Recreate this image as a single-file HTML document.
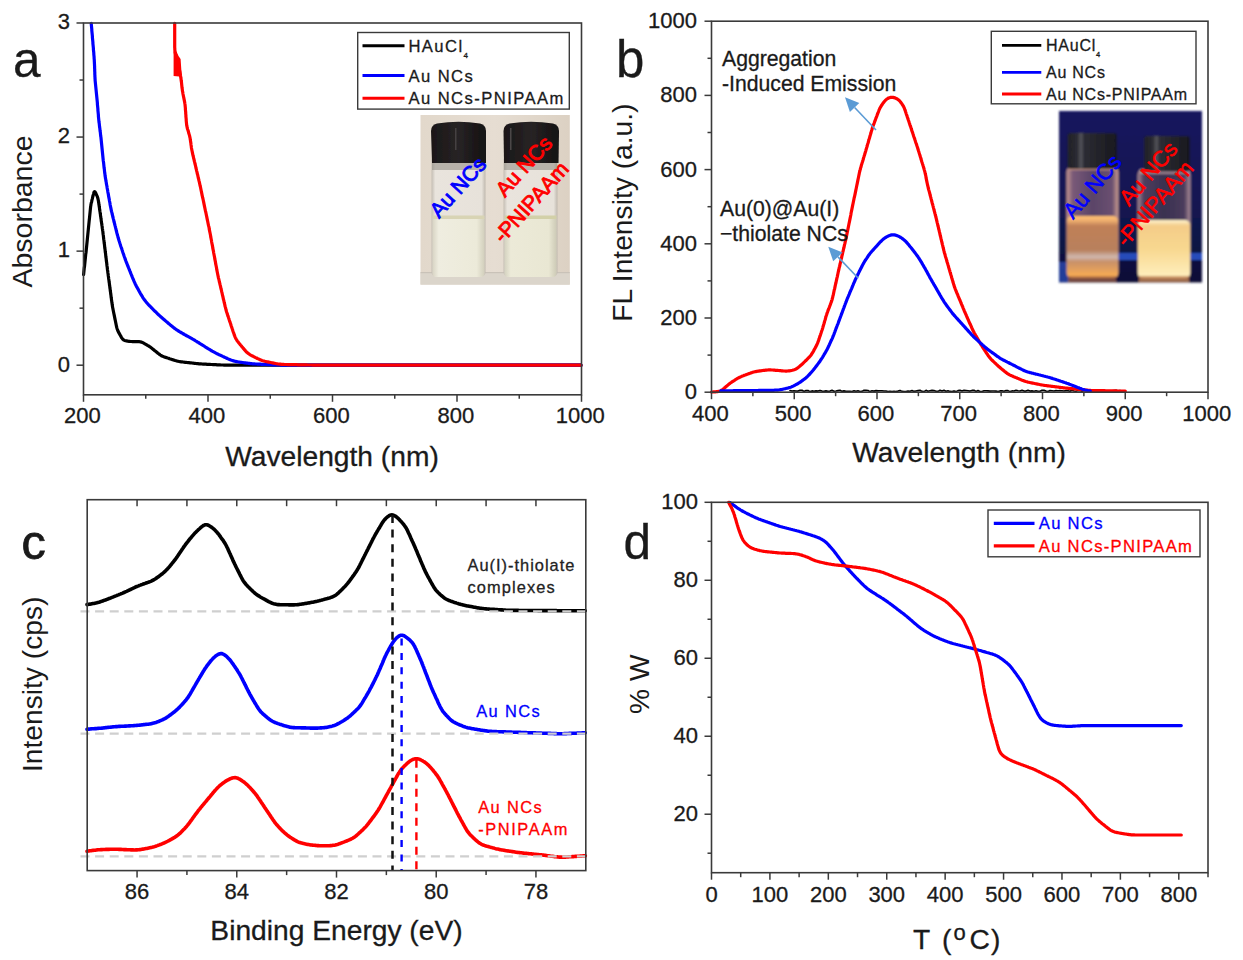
<!DOCTYPE html>
<html><head><meta charset="utf-8"><style>
html,body{margin:0;padding:0;background:#fff;width:1243px;height:960px;overflow:hidden}
svg{display:block}
text{font-family:"Liberation Sans",sans-serif}
</style></head><body>
<svg width="1243" height="960" viewBox="0 0 1243 960">
<rect width="1243" height="960" fill="#fff"/>
<defs>
<linearGradient id="pAbg" x1="0" y1="0" x2="1" y2="0">
<stop offset="0" stop-color="#e2d8cb"/><stop offset="0.5" stop-color="#e6ddd2"/><stop offset="1" stop-color="#dcd1c3"/>
</linearGradient>
<linearGradient id="pAcap" x1="0" y1="0" x2="1" y2="0">
<stop offset="0" stop-color="#1a1718"/><stop offset="0.3" stop-color="#221e1f"/><stop offset="0.5" stop-color="#282425"/><stop offset="0.7" stop-color="#1f1b1c"/><stop offset="1" stop-color="#151213"/>
</linearGradient>
<linearGradient id="pAliq" x1="0" y1="0" x2="1" y2="0">
<stop offset="0" stop-color="#d8d4c4"/><stop offset="0.12" stop-color="#efede0"/><stop offset="0.85" stop-color="#ecead9"/><stop offset="1" stop-color="#d2cfbc"/>
</linearGradient>
<linearGradient id="pAliq2" x1="0" y1="0" x2="1" y2="0">
<stop offset="0" stop-color="#d4d2c0"/><stop offset="0.12" stop-color="#ecead8"/><stop offset="0.85" stop-color="#e9e7d3"/><stop offset="1" stop-color="#cdcab6"/>
</linearGradient>
<linearGradient id="pAglass" x1="0" y1="0" x2="1" y2="0">
<stop offset="0" stop-color="#c4bdb3"/><stop offset="0.07" stop-color="#e9e4dd"/><stop offset="0.93" stop-color="#e7e2da"/><stop offset="1" stop-color="#bfb8ae"/>
</linearGradient>
<filter id="pAblur" x="-5%" y="-5%" width="110%" height="110%"><feGaussianBlur stdDeviation="0.7"/></filter>
</defs>
<g filter="url(#pAblur)">
<rect x="420.5" y="115" width="149.3" height="169.6" fill="url(#pAbg)"/>
<rect x="420.5" y="273" width="149.3" height="11.6" fill="#dbd5cb"/>
<rect x="420.5" y="272" width="149.3" height="1.2" fill="#c9c2b8"/>
<!-- left vial -->
<rect x="431.5" y="156" width="54" height="121" rx="5" fill="url(#pAglass)"/>
<rect x="432.5" y="216" width="52" height="61" rx="4" fill="url(#pAliq)"/>
<rect x="432.5" y="215.5" width="52" height="3.5" fill="#d8d4b4"/>
<rect x="432" y="160" width="53" height="10" fill="#8e8880" opacity="0.55"/>
<path d="M432,163 L431,131 Q431,125 437,123.5 Q458.5,120 480,123.5 Q486,125 486,131 L486,163 Z" fill="url(#pAcap)"/>
<rect x="455" y="128" width="1.5" height="22" fill="#5a5556" opacity="0.6"/>
<!-- right vial -->
<rect x="503.5" y="156" width="54" height="121" rx="5" fill="url(#pAglass)"/>
<rect x="504.5" y="216" width="52" height="61" rx="4" fill="url(#pAliq2)"/>
<rect x="504.5" y="215.5" width="52" height="3.5" fill="#d2d0a8"/>
<rect x="504" y="160" width="53" height="10" fill="#908a82" opacity="0.55"/>
<path d="M504,163 L503.5,131 Q503.5,125 509.5,123.5 Q531,120 553,123.5 Q559,125 559,131 L558.5,163 Z" fill="url(#pAcap)"/>
<rect x="510" y="128" width="1.5" height="22" fill="#6a6566" opacity="0.6"/>
</g>
<g font-family="Liberation Sans, sans-serif" font-size="21" stroke-width="0.9">
<text transform="translate(439,219) rotate(-48)" fill="#0000ff" stroke="#0000ff">Au NCs</text>
<text transform="translate(505,198) rotate(-48)" fill="#ff0000" stroke="#ff0000">Au NCs</text>
<text transform="translate(503,244) rotate(-48)" fill="#ff0000" stroke="#ff0000">-PNIPAAm</text>
</g>

<defs>
<linearGradient id="pBbg" x1="0" y1="0" x2="0" y2="1">
<stop offset="0" stop-color="#15175e"/><stop offset="0.6" stop-color="#121450"/><stop offset="1" stop-color="#0e1036"/>
</linearGradient>
<linearGradient id="pBcap" x1="0" y1="0" x2="1" y2="0">
<stop offset="0" stop-color="#202026"/><stop offset="0.2" stop-color="#2c2c33"/><stop offset="0.27" stop-color="#55555c"/><stop offset="0.34" stop-color="#2c2c33"/><stop offset="1" stop-color="#18181e"/>
</linearGradient>
<linearGradient id="pBglassL" x1="0" y1="0" x2="1" y2="0">
<stop offset="0" stop-color="#c89890"/><stop offset="0.12" stop-color="#7a5a78"/><stop offset="0.5" stop-color="#5a4468"/><stop offset="0.88" stop-color="#6a5070"/><stop offset="1" stop-color="#d0a090"/>
</linearGradient>
<linearGradient id="pBglassR" x1="0" y1="0" x2="1" y2="0">
<stop offset="0" stop-color="#a88890"/><stop offset="0.12" stop-color="#4e3e5e"/><stop offset="0.5" stop-color="#3a3050"/><stop offset="0.88" stop-color="#4a3c5c"/><stop offset="1" stop-color="#b09098"/>
</linearGradient>
<linearGradient id="pBliqL" x1="0" y1="0" x2="0" y2="1">
<stop offset="0" stop-color="#ffc070"/><stop offset="0.07" stop-color="#f0b070"/><stop offset="0.16" stop-color="#c08058"/><stop offset="0.55" stop-color="#b8805c"/><stop offset="0.66" stop-color="#d0b8b0"/><stop offset="0.74" stop-color="#c89068"/><stop offset="1" stop-color="#ffb050"/>
</linearGradient>
<linearGradient id="pBliqR" x1="0" y1="0" x2="0" y2="1">
<stop offset="0" stop-color="#fff4d0"/><stop offset="0.1" stop-color="#f4cc88"/><stop offset="0.5" stop-color="#f8d890"/><stop offset="1" stop-color="#fff0c0"/>
</linearGradient>
<filter id="pBblur" x="-5%" y="-5%" width="110%" height="110%"><feGaussianBlur stdDeviation="0.8"/></filter>
</defs>
<g filter="url(#pBblur)">
<rect x="1059" y="111" width="143" height="171.5" fill="url(#pBbg)"/>
<rect x="1118" y="253" width="84" height="7" fill="#2a56d0" opacity="0.85"/>
<rect x="1059" y="262" width="10" height="20" fill="#2a48b0" opacity="0.8"/>
<!-- left vial -->
<rect x="1066.5" y="166" width="52" height="112.5" rx="6" fill="url(#pBglassL)"/>
<rect x="1067" y="216" width="51" height="62" rx="5" fill="url(#pBliqL)"/>
<rect x="1068" y="165" width="49" height="5" rx="2.5" fill="#e0a888" opacity="0.8"/>
<rect x="1067.5" y="133" width="49.5" height="36" rx="3" fill="url(#pBcap)"/>
<!-- right vial -->
<rect x="1137.5" y="169" width="53" height="109.5" rx="6" fill="url(#pBglassR)"/>
<rect x="1138" y="220" width="52" height="58.5" rx="5" fill="url(#pBliqR)"/>
<rect x="1139" y="169" width="51" height="5" rx="2.5" fill="#c0a0a8" opacity="0.7"/>
<rect x="1144" y="136" width="46" height="35.5" rx="3" fill="url(#pBcap)"/>
<rect x="1068" y="276" width="48" height="6" fill="#a06040" opacity="0.7"/>
<rect x="1139" y="276" width="50" height="6" fill="#c08050" opacity="0.8"/>
</g>
<g font-family="Liberation Sans, sans-serif" font-size="22" stroke-width="0.55">
<text transform="translate(1073,220) rotate(-49)" fill="#0000ff" stroke="#0000ff">Au NCs</text>
<text transform="translate(1129,207) rotate(-49)" fill="#ff0000" stroke="#ff0000">Au NCs</text>
<text transform="translate(1126,248) rotate(-49)" fill="#ff0000" stroke="#ff0000">-PNIPAAm</text>
</g>

<g id="panelA">
<text x="13" y="76.5" font-size="49.5" text-anchor="start" fill="#1a1a1a"  stroke="#1a1a1a" stroke-width="0.3">a</text>
<path d="M83.6,274.6 L83.7,273.6 L83.8,272.6 L83.9,271.6 L84.0,270.6 L84.1,269.6 L84.2,268.6 L84.3,267.6 L84.5,266.6 L84.6,265.6 L84.7,264.6 L84.8,263.6 L84.9,262.6 L85.0,261.6 L85.1,260.6 L85.2,259.6 L85.3,258.6 L85.4,257.7 L85.5,256.7 L85.6,255.7 L85.7,254.7 L85.8,253.7 L86.0,252.7 L86.1,251.7 L86.2,250.7 L86.3,249.7 L86.4,248.7 L86.5,247.7 L86.6,246.7 L86.7,245.7 L86.8,244.7 L86.9,243.7 L87.0,242.7 L87.1,241.7 L87.2,240.7 L87.3,239.7 L87.4,238.7 L87.5,237.7 L87.6,236.7 L87.7,235.7 L87.8,234.7 L87.9,233.7 L88.0,232.7 L88.1,231.7 L88.2,230.7 L88.3,229.7 L88.4,228.7 L88.5,227.7 L88.6,226.7 L88.7,225.7 L88.8,224.7 L88.9,223.7 L89.0,222.7 L89.1,221.7 L89.2,220.7 L89.3,219.8 L89.4,218.8 L89.5,217.8 L89.6,216.8 L89.7,215.8 L89.8,214.8 L89.9,213.8 L90.0,212.8 L90.1,211.8 L90.2,210.8 L90.3,209.8 L90.4,208.8 L90.5,207.8 L90.6,206.8 L90.8,205.8 L90.9,204.8 L91.1,203.8 L91.3,202.8 L91.6,201.9 L91.8,200.9 L92.0,199.9 L92.3,198.9 L92.5,198.0 L92.7,197.0 L93.0,196.0 L93.2,195.1 L93.5,194.1 L93.7,193.2 L94.0,192.4 L94.2,191.9 L94.6,191.7 L94.9,191.8 L95.3,192.3 L95.7,193.0 L96.1,193.9 L96.5,194.8 L96.9,195.7 L97.3,196.6 L97.6,197.5 L97.9,198.5 L98.1,199.5 L98.3,200.4 L98.5,201.4 L98.6,202.4 L98.8,203.4 L98.9,204.4 L99.1,205.4 L99.2,206.4 L99.4,207.4 L99.5,208.4 L99.6,209.4 L99.8,210.4 L99.9,211.3 L100.1,212.3 L100.2,213.3 L100.4,214.3 L100.5,215.3 L100.6,216.3 L100.8,217.3 L100.9,218.3 L101.1,219.3 L101.2,220.3 L101.3,221.3 L101.5,222.3 L101.6,223.3 L101.8,224.3 L101.9,225.2 L102.1,226.2 L102.2,227.2 L102.3,228.2 L102.5,229.2 L102.6,230.2 L102.8,231.2 L102.9,232.2 L103.0,233.2 L103.1,234.2 L103.3,235.2 L103.4,236.2 L103.5,237.2 L103.6,238.2 L103.7,239.2 L103.9,240.2 L104.0,241.2 L104.1,242.1 L104.2,243.1 L104.4,244.1 L104.5,245.1 L104.6,246.1 L104.7,247.1 L104.8,248.1 L105.0,249.1 L105.1,250.1 L105.2,251.1 L105.3,252.1 L105.5,253.1 L105.6,254.1 L105.7,255.1 L105.8,256.1 L105.9,257.1 L106.1,258.1 L106.2,259.1 L106.3,260.1 L106.4,261.1 L106.6,262.1 L106.7,263.0 L106.8,264.0 L106.9,265.0 L107.0,266.0 L107.2,267.0 L107.3,268.0 L107.4,269.0 L107.5,270.0 L107.7,271.0 L107.8,272.0 L107.9,273.0 L108.1,274.0 L108.2,275.0 L108.3,276.0 L108.5,277.0 L108.6,278.0 L108.7,279.0 L108.9,280.0 L109.0,280.9 L109.1,281.9 L109.3,282.9 L109.4,283.9 L109.5,284.9 L109.7,285.9 L109.8,286.9 L109.9,287.9 L110.1,288.9 L110.2,289.9 L110.3,290.9 L110.5,291.9 L110.6,292.9 L110.7,293.9 L110.9,294.9 L111.0,295.9 L111.1,296.8 L111.2,297.8 L111.4,298.8 L111.5,299.8 L111.6,300.8 L111.8,301.8 L111.9,302.8 L112.1,303.8 L112.2,304.8 L112.4,305.8 L112.5,306.8 L112.7,307.8 L112.9,308.7 L113.1,309.7 L113.3,310.7 L113.5,311.7 L113.7,312.7 L113.9,313.7 L114.1,314.6 L114.3,315.6 L114.5,316.6 L114.7,317.6 L114.9,318.6 L115.1,319.6 L115.3,320.5 L115.5,321.5 L115.7,322.5 L115.9,323.5 L116.1,324.5 L116.3,325.5 L116.5,326.4 L116.7,327.4 L117.0,328.4 L117.3,329.3 L117.6,330.2 L118.0,331.1 L118.5,332.0 L118.9,332.9 L119.4,333.8 L119.9,334.7 L120.4,335.5 L120.9,336.4 L121.4,337.3 L121.9,338.1 L122.5,338.9 L123.1,339.5 L123.9,340.1 L124.7,340.4 L125.6,340.7 L126.5,340.9 L127.5,341.1 L128.5,341.3 L129.5,341.4 L130.5,341.5 L131.5,341.5 L132.5,341.6 L133.5,341.6 L134.5,341.6 L135.5,341.6 L136.5,341.6 L137.5,341.6 L138.5,341.6 L139.5,341.7 L140.4,341.9 L141.4,342.1 L142.3,342.4 L143.2,342.9 L144.1,343.3 L144.9,343.8 L145.8,344.3 L146.7,344.8 L147.5,345.3 L148.4,345.8 L149.2,346.4 L150.0,346.9 L150.9,347.5 L151.6,348.1 L152.4,348.8 L153.2,349.4 L154.0,350.0 L154.8,350.7 L155.6,351.3 L156.3,351.9 L157.1,352.5 L157.9,353.2 L158.7,353.8 L159.5,354.4 L160.3,355.0 L161.1,355.5 L162.0,356.0 L162.9,356.4 L163.8,356.8 L164.8,357.1 L165.7,357.4 L166.7,357.7 L167.6,358.0 L168.6,358.3 L169.5,358.7 L170.5,359.0 L171.4,359.3 L172.4,359.6 L173.3,359.9 L174.3,360.2 L175.2,360.5 L176.2,360.8 L177.1,361.1 L178.1,361.3 L179.1,361.5 L180.1,361.7 L181.1,361.8 L182.1,361.9 L183.1,362.0 L184.1,362.2 L185.1,362.3 L186.1,362.4 L187.1,362.5 L188.0,362.6 L189.0,362.7 L190.0,362.8 L191.0,362.9 L192.0,363.0 L193.0,363.1 L194.0,363.3 L195.0,363.4 L196.0,363.5 L197.0,363.6 L198.0,363.7 L199.0,363.8 L200.0,363.9 L201.0,363.9 L202.0,364.0 L203.0,364.1 L204.0,364.1 L205.0,364.2 L206.0,364.2 L207.0,364.3 L208.0,364.3 L209.0,364.4 L210.0,364.4 L211.0,364.5 L212.0,364.5 L213.0,364.6 L214.0,364.6 L215.0,364.7 L216.0,364.7 L217.0,364.8 L218.0,364.8 L219.0,364.9 L220.0,364.9 L221.0,365.0 L222.0,365.0 L223.0,365.0 L224.0,365.1 L225.0,365.1 L226.0,365.1 L227.0,365.1 L228.1,365.1 L229.1,365.1 L230.1,365.1 L231.1,365.1 L232.1,365.1 L233.1,365.1 L234.1,365.1 L235.1,365.1 L236.1,365.1 L237.1,365.1 L238.1,365.1 L239.1,365.1 L240.1,365.1 L241.1,365.1 L242.1,365.1 L243.1,365.1 L244.1,365.1 L245.1,365.1 L246.1,365.1 L247.1,365.1 L248.1,365.1 L249.1,365.1 L250.1,365.1 L251.1,365.1 L252.1,365.2 L253.1,365.2 L254.1,365.2 L255.1,365.2 L256.1,365.2 L257.1,365.2 L258.1,365.2 L259.1,365.2 L260.1,365.2 L261.1,365.2 L262.1,365.2 L263.1,365.2 L264.1,365.2 L265.2,365.2 L266.2,365.2 L267.2,365.2 L268.2,365.2 L269.2,365.2 L270.2,365.2 L271.2,365.2 L272.2,365.2 L273.2,365.2 L274.2,365.2 L275.2,365.2 L276.2,365.2 L277.2,365.2 L278.2,365.2 L279.2,365.2 L280.2,365.2 L281.2,365.2 L282.2,365.2 L283.2,365.2 L284.2,365.2 L285.2,365.2 L286.2,365.2 L287.2,365.2 L288.2,365.2 L289.2,365.2 L290.2,365.2 L291.2,365.2 L292.2,365.2 L293.2,365.2 L294.2,365.2 L295.2,365.2 L296.2,365.2 L297.2,365.2 L298.2,365.2 L299.2,365.2 L300.2,365.2 L301.2,365.2 L302.3,365.2 L303.3,365.2 L304.3,365.2 L305.3,365.2 L306.3,365.2 L307.3,365.2 L308.3,365.2 L309.3,365.2 L310.3,365.2 L311.3,365.2 L312.3,365.2 L313.3,365.2 L314.3,365.2 L315.3,365.2 L316.3,365.2 L317.3,365.2 L318.3,365.2 L319.3,365.2 L320.3,365.2 L321.3,365.2 L322.3,365.2 L323.3,365.2 L324.3,365.2 L325.3,365.2 L326.3,365.2 L327.3,365.2 L328.3,365.2 L329.3,365.2 L330.3,365.2 L331.3,365.2 L332.3,365.2 L333.3,365.2 L334.3,365.2 L335.3,365.2 L336.3,365.2 L337.3,365.2 L338.3,365.2 L339.4,365.2 L340.4,365.2 L341.4,365.2 L342.4,365.2 L343.4,365.2 L344.4,365.2 L345.4,365.2 L346.4,365.2 L347.4,365.2 L348.4,365.2 L349.4,365.2 L350.4,365.2 L351.4,365.2 L352.4,365.2 L353.4,365.2 L354.4,365.2 L355.4,365.2 L356.4,365.2 L357.4,365.2 L358.4,365.2 L359.4,365.2 L360.4,365.2 L361.4,365.2 L362.4,365.2 L363.4,365.2 L364.4,365.2 L365.4,365.2 L366.4,365.2 L367.4,365.2 L368.4,365.2 L369.4,365.2 L370.4,365.2 L371.4,365.2 L372.4,365.2 L373.4,365.2 L374.4,365.2 L375.4,365.2 L376.5,365.2 L377.5,365.2 L378.5,365.2 L379.5,365.2 L380.5,365.2 L381.5,365.2 L382.5,365.2 L383.5,365.2 L384.5,365.2 L385.5,365.2 L386.5,365.2 L387.5,365.2 L388.5,365.2 L389.5,365.2 L390.5,365.2 L391.5,365.2 L392.5,365.2 L393.5,365.2 L394.5,365.2 L395.5,365.2 L396.5,365.2 L397.5,365.2 L398.5,365.2 L399.5,365.2 L400.5,365.2 L401.5,365.2 L402.5,365.2 L403.5,365.2 L404.5,365.2 L405.5,365.2 L406.5,365.2 L407.5,365.2 L408.5,365.2 L409.5,365.2 L410.5,365.2 L411.5,365.2 L412.5,365.2 L413.6,365.2 L414.6,365.2 L415.6,365.2 L416.6,365.2 L417.6,365.2 L418.6,365.2 L419.6,365.2 L420.6,365.2 L421.6,365.2 L422.6,365.2 L423.6,365.2 L424.6,365.2 L425.6,365.2 L426.6,365.2 L427.6,365.2 L428.6,365.2 L429.6,365.2 L430.6,365.2 L431.6,365.2 L432.6,365.2 L433.6,365.2 L434.6,365.2 L435.6,365.2 L436.6,365.2 L437.6,365.2 L438.6,365.2 L439.6,365.2 L440.6,365.2 L441.6,365.2 L442.6,365.2 L443.6,365.2 L444.6,365.2 L445.6,365.2 L446.6,365.2 L447.6,365.2 L448.6,365.2 L449.6,365.2 L450.6,365.2 L451.7,365.2 L452.7,365.2 L453.7,365.2 L454.7,365.2 L455.7,365.2 L456.7,365.2 L457.7,365.2 L458.7,365.2 L459.7,365.2 L460.7,365.2 L461.7,365.2 L462.7,365.2 L463.7,365.2 L464.7,365.2 L465.7,365.2 L466.7,365.2 L467.7,365.2 L468.7,365.2 L469.7,365.2 L470.7,365.2 L471.7,365.2 L472.7,365.2 L473.7,365.2 L474.7,365.2 L475.7,365.2 L476.7,365.2 L477.7,365.2 L478.7,365.2 L479.7,365.2 L480.7,365.2 L481.7,365.2 L482.7,365.2 L483.7,365.2 L484.7,365.2 L485.7,365.2 L486.7,365.2 L487.7,365.2 L488.8,365.2 L489.8,365.2 L490.8,365.2 L491.8,365.2 L492.8,365.2 L493.8,365.2 L494.8,365.2 L495.8,365.2 L496.8,365.2 L497.8,365.2 L498.8,365.2 L499.8,365.2 L500.8,365.2 L501.8,365.2 L502.8,365.2 L503.8,365.2 L504.8,365.2 L505.8,365.2 L506.8,365.2 L507.8,365.2 L508.8,365.2 L509.8,365.2 L510.8,365.2 L511.8,365.2 L512.8,365.2 L513.8,365.2 L514.8,365.2 L515.8,365.2 L516.8,365.2 L517.8,365.2 L518.8,365.2 L519.8,365.2 L520.8,365.2 L521.8,365.2 L522.8,365.2 L523.8,365.2 L524.8,365.2 L525.9,365.2 L526.9,365.2 L527.9,365.2 L528.9,365.2 L529.9,365.2 L530.9,365.2 L531.9,365.2 L532.9,365.2 L533.9,365.2 L534.9,365.2 L535.9,365.2 L536.9,365.2 L537.9,365.2 L538.9,365.2 L539.9,365.2 L540.9,365.2 L541.9,365.2 L542.9,365.2 L543.9,365.2 L544.9,365.2 L545.9,365.2 L546.9,365.2 L547.9,365.2 L548.9,365.2 L549.9,365.2 L550.9,365.2 L551.9,365.2 L552.9,365.2 L553.9,365.2 L554.9,365.2 L555.9,365.2 L556.9,365.2 L557.9,365.2 L558.9,365.2 L559.9,365.2 L560.9,365.2 L561.9,365.2 L563.0,365.2 L564.0,365.2 L565.0,365.2 L566.0,365.2 L567.0,365.2 L568.0,365.2 L569.0,365.2 L570.0,365.2 L571.0,365.2 L572.0,365.2 L573.0,365.2 L574.0,365.2 L575.0,365.2 L576.0,365.2 L577.0,365.2 L578.0,365.2 L579.0,365.2 L580.0,365.2 L581.0,365.2" fill="none" stroke="#000" stroke-width="3.2" stroke-linejoin="round" stroke-linecap="round"/>
<path d="M91.3,23.3 L91.3,24.3 L91.4,25.3 L91.5,26.3 L91.6,27.3 L91.7,28.3 L91.8,29.3 L91.8,30.3 L91.9,31.3 L92.0,32.3 L92.1,33.3 L92.2,34.3 L92.3,35.3 L92.4,36.3 L92.4,37.3 L92.5,38.3 L92.6,39.3 L92.7,40.3 L92.8,41.3 L92.9,42.3 L92.9,43.3 L93.0,44.3 L93.1,45.3 L93.2,46.3 L93.3,47.3 L93.4,48.3 L93.4,49.3 L93.5,50.3 L93.6,51.2 L93.7,52.2 L93.8,53.2 L93.8,54.2 L93.9,55.2 L94.0,56.2 L94.1,57.2 L94.1,58.2 L94.2,59.2 L94.3,60.2 L94.3,61.2 L94.4,62.2 L94.4,63.2 L94.5,64.2 L94.5,65.2 L94.6,66.2 L94.6,67.2 L94.6,68.2 L94.7,69.2 L94.7,70.2 L94.7,71.2 L94.8,72.2 L94.8,73.2 L94.8,74.2 L94.9,75.3 L94.9,76.3 L95.0,77.3 L95.0,78.3 L95.1,79.2 L95.1,80.2 L95.2,81.2 L95.3,82.2 L95.4,83.2 L95.5,84.2 L95.6,85.2 L95.7,86.2 L95.8,87.2 L95.9,88.2 L96.0,89.2 L96.1,90.2 L96.2,91.2 L96.3,92.2 L96.4,93.2 L96.5,94.2 L96.6,95.2 L96.7,96.2 L96.8,97.2 L96.9,98.2 L97.0,99.2 L97.1,100.2 L97.2,101.2 L97.3,102.2 L97.4,103.2 L97.4,104.2 L97.5,105.2 L97.6,106.2 L97.7,107.2 L97.8,108.2 L97.9,109.2 L97.9,110.2 L98.0,111.2 L98.1,112.2 L98.2,113.2 L98.3,114.2 L98.4,115.2 L98.4,116.2 L98.5,117.2 L98.6,118.1 L98.7,119.1 L98.8,120.1 L98.9,121.1 L99.0,122.1 L99.2,123.1 L99.3,124.1 L99.4,125.1 L99.5,126.1 L99.6,127.1 L99.8,128.1 L99.9,129.1 L100.0,130.1 L100.1,131.1 L100.3,132.1 L100.4,133.1 L100.5,134.1 L100.6,135.1 L100.7,136.1 L100.9,137.0 L101.0,138.0 L101.1,139.0 L101.2,140.0 L101.3,141.0 L101.4,142.0 L101.5,143.0 L101.6,144.0 L101.7,145.0 L101.8,146.0 L101.9,147.0 L102.0,148.0 L102.1,149.0 L102.2,150.0 L102.3,151.0 L102.4,152.0 L102.5,153.0 L102.6,154.0 L102.7,155.0 L102.8,156.0 L102.9,157.0 L103.0,158.0 L103.1,159.0 L103.2,160.0 L103.3,161.0 L103.5,162.0 L103.6,162.9 L103.7,163.9 L103.8,164.9 L103.9,165.9 L104.0,166.9 L104.1,167.9 L104.3,168.9 L104.4,169.9 L104.5,170.9 L104.6,171.9 L104.7,172.9 L104.9,173.9 L105.0,174.9 L105.1,175.9 L105.3,176.9 L105.4,177.9 L105.6,178.8 L105.8,179.8 L105.9,180.8 L106.1,181.8 L106.3,182.8 L106.4,183.8 L106.6,184.8 L106.8,185.8 L107.0,186.7 L107.1,187.7 L107.3,188.7 L107.5,189.7 L107.7,190.7 L107.8,191.7 L108.0,192.7 L108.2,193.6 L108.4,194.6 L108.5,195.6 L108.7,196.6 L108.9,197.6 L109.1,198.6 L109.3,199.6 L109.4,200.5 L109.6,201.5 L109.8,202.5 L110.0,203.5 L110.1,204.5 L110.3,205.5 L110.5,206.5 L110.7,207.4 L110.9,208.4 L111.1,209.4 L111.3,210.4 L111.5,211.4 L111.8,212.3 L112.0,213.3 L112.2,214.3 L112.5,215.3 L112.7,216.2 L112.9,217.2 L113.2,218.2 L113.4,219.1 L113.7,220.1 L113.9,221.1 L114.1,222.1 L114.4,223.0 L114.6,224.0 L114.9,225.0 L115.1,225.9 L115.4,226.9 L115.6,227.9 L115.9,228.9 L116.1,229.8 L116.3,230.8 L116.6,231.8 L116.8,232.7 L117.1,233.7 L117.3,234.7 L117.6,235.6 L117.9,236.6 L118.1,237.6 L118.4,238.5 L118.7,239.5 L119.0,240.5 L119.3,241.4 L119.6,242.4 L119.9,243.3 L120.2,244.3 L120.5,245.2 L120.8,246.2 L121.1,247.1 L121.5,248.1 L121.8,249.0 L122.1,250.0 L122.4,250.9 L122.7,251.9 L123.0,252.8 L123.4,253.8 L123.7,254.7 L124.0,255.7 L124.3,256.6 L124.7,257.6 L125.0,258.5 L125.3,259.5 L125.7,260.4 L126.0,261.3 L126.4,262.3 L126.7,263.2 L127.1,264.1 L127.5,265.1 L127.8,266.0 L128.2,266.9 L128.6,267.9 L129.0,268.8 L129.3,269.7 L129.7,270.7 L130.1,271.6 L130.4,272.5 L130.8,273.4 L131.2,274.4 L131.6,275.3 L131.9,276.2 L132.3,277.2 L132.7,278.1 L133.1,279.0 L133.5,279.9 L133.9,280.9 L134.3,281.8 L134.7,282.7 L135.1,283.6 L135.5,284.5 L136.0,285.4 L136.4,286.3 L136.9,287.1 L137.4,288.0 L137.9,288.9 L138.4,289.8 L138.8,290.7 L139.3,291.5 L139.8,292.4 L140.3,293.3 L140.8,294.1 L141.3,295.0 L141.9,295.9 L142.4,296.7 L142.9,297.6 L143.4,298.4 L144.0,299.2 L144.6,300.0 L145.2,300.8 L145.8,301.6 L146.4,302.4 L147.1,303.1 L147.7,303.9 L148.4,304.6 L149.1,305.3 L149.8,306.0 L150.5,306.7 L151.2,307.5 L151.9,308.2 L152.6,308.9 L153.3,309.6 L154.0,310.3 L154.7,311.0 L155.5,311.7 L156.2,312.4 L156.9,313.1 L157.6,313.8 L158.3,314.5 L159.1,315.2 L159.8,315.9 L160.5,316.5 L161.3,317.2 L162.0,317.9 L162.8,318.5 L163.6,319.2 L164.3,319.8 L165.1,320.5 L165.8,321.1 L166.6,321.8 L167.4,322.4 L168.1,323.1 L168.9,323.7 L169.7,324.4 L170.4,325.0 L171.2,325.6 L172.0,326.3 L172.7,326.9 L173.5,327.5 L174.3,328.1 L175.1,328.7 L175.9,329.3 L176.7,329.9 L177.6,330.4 L178.4,331.0 L179.3,331.5 L180.1,332.0 L181.0,332.5 L181.9,333.0 L182.7,333.5 L183.6,334.0 L184.5,334.5 L185.3,335.0 L186.2,335.5 L187.1,336.0 L188.0,336.4 L188.8,336.9 L189.7,337.4 L190.6,337.9 L191.5,338.4 L192.3,338.9 L193.2,339.4 L194.1,339.9 L194.9,340.4 L195.8,341.0 L196.6,341.5 L197.5,342.0 L198.3,342.5 L199.2,343.0 L200.0,343.6 L200.9,344.1 L201.7,344.6 L202.6,345.2 L203.4,345.7 L204.3,346.2 L205.1,346.8 L206.0,347.3 L206.8,347.8 L207.7,348.4 L208.5,348.9 L209.4,349.4 L210.2,349.9 L211.1,350.5 L212.0,351.0 L212.8,351.5 L213.7,351.9 L214.6,352.4 L215.5,352.9 L216.3,353.3 L217.2,353.8 L218.1,354.2 L219.0,354.7 L219.9,355.1 L220.9,355.5 L221.8,355.9 L222.7,356.4 L223.6,356.8 L224.5,357.2 L225.4,357.6 L226.3,358.0 L227.2,358.5 L228.1,358.9 L229.0,359.3 L230.0,359.6 L230.9,360.0 L231.8,360.3 L232.8,360.6 L233.7,360.9 L234.7,361.2 L235.6,361.4 L236.6,361.6 L237.6,361.8 L238.6,362.0 L239.6,362.1 L240.6,362.3 L241.5,362.4 L242.5,362.5 L243.5,362.7 L244.5,362.8 L245.5,362.9 L246.5,363.1 L247.5,363.2 L248.5,363.3 L249.5,363.4 L250.5,363.6 L251.5,363.7 L252.5,363.8 L253.5,363.8 L254.5,363.9 L255.5,364.0 L256.5,364.0 L257.5,364.1 L258.5,364.2 L259.5,364.2 L260.5,364.2 L261.5,364.3 L262.5,364.3 L263.5,364.4 L264.5,364.4 L265.5,364.5 L266.5,364.5 L267.5,364.6 L268.5,364.6 L269.5,364.6 L270.5,364.7 L271.5,364.7 L272.5,364.8 L273.5,364.8 L274.5,364.9 L275.5,364.9 L276.5,364.9 L277.5,365.0 L278.5,365.0 L279.5,365.0 L280.5,365.0 L281.5,365.1 L282.5,365.1 L283.5,365.1 L284.5,365.1 L285.5,365.1 L286.5,365.1 L287.5,365.1 L288.5,365.1 L289.5,365.1 L290.5,365.1 L291.5,365.1 L292.5,365.1 L293.5,365.1 L294.5,365.1 L295.5,365.1 L296.5,365.1 L297.5,365.1 L298.5,365.1 L299.5,365.1 L300.5,365.1 L301.5,365.1 L302.5,365.1 L303.5,365.1 L304.5,365.1 L305.5,365.1 L306.5,365.1 L307.5,365.1 L308.5,365.1 L309.5,365.1 L310.5,365.1 L311.5,365.1 L312.5,365.1 L313.5,365.1 L314.5,365.1 L315.5,365.1 L316.5,365.1 L317.5,365.1 L318.5,365.1 L319.5,365.1 L320.6,365.1 L321.6,365.1 L322.6,365.1 L323.6,365.1 L324.6,365.1 L325.6,365.1 L326.6,365.1 L327.6,365.1 L328.6,365.1 L329.6,365.1 L330.6,365.1 L331.6,365.1 L332.6,365.1 L333.6,365.1 L334.6,365.1 L335.6,365.1 L336.6,365.1 L337.6,365.1 L338.6,365.1 L339.6,365.1 L340.6,365.1 L341.6,365.1 L342.6,365.1 L343.6,365.1 L344.6,365.1 L345.6,365.1 L346.6,365.1 L347.6,365.1 L348.6,365.1 L349.6,365.1 L350.6,365.1 L351.6,365.1 L352.6,365.1 L353.6,365.1 L354.6,365.1 L355.6,365.1 L356.6,365.1 L357.6,365.1 L358.6,365.1 L359.6,365.1 L360.6,365.1 L361.6,365.1 L362.6,365.1 L363.6,365.1 L364.6,365.1 L365.6,365.1 L366.6,365.1 L367.6,365.1 L368.6,365.1 L369.6,365.1 L370.6,365.1 L371.6,365.1 L372.6,365.1 L373.6,365.1 L374.6,365.1 L375.6,365.1 L376.6,365.1 L377.6,365.1 L378.7,365.1 L379.7,365.1 L380.7,365.1 L381.7,365.1 L382.7,365.1 L383.7,365.1 L384.7,365.1 L385.7,365.1 L386.7,365.1 L387.7,365.1 L388.7,365.1 L389.7,365.1 L390.7,365.1 L391.7,365.1 L392.7,365.1 L393.7,365.1 L394.7,365.1 L395.7,365.1 L396.7,365.1 L397.7,365.1 L398.7,365.1 L399.7,365.1 L400.7,365.1 L401.7,365.1 L402.7,365.1 L403.7,365.1 L404.7,365.1 L405.7,365.1 L406.7,365.1 L407.7,365.1 L408.7,365.1 L409.7,365.1 L410.7,365.1 L411.7,365.1 L412.7,365.1 L413.7,365.1 L414.7,365.1 L415.7,365.1 L416.7,365.1 L417.7,365.1 L418.7,365.1 L419.7,365.1 L420.7,365.1 L421.7,365.1 L422.7,365.1 L423.7,365.1 L424.7,365.1 L425.7,365.1 L426.7,365.1 L427.7,365.1 L428.7,365.1 L429.7,365.1 L430.7,365.2 L431.7,365.2 L432.7,365.2 L433.7,365.2 L434.7,365.2 L435.7,365.2 L436.8,365.2 L437.8,365.2 L438.8,365.2 L439.8,365.2 L440.8,365.2 L441.8,365.2 L442.8,365.2 L443.8,365.2 L444.8,365.2 L445.8,365.2 L446.8,365.2 L447.8,365.2 L448.8,365.2 L449.8,365.2 L450.8,365.2 L451.8,365.2 L452.8,365.2 L453.8,365.2 L454.8,365.2 L455.8,365.2 L456.8,365.2 L457.8,365.2 L458.8,365.2 L459.8,365.2 L460.8,365.2 L461.8,365.2 L462.8,365.2 L463.8,365.2 L464.8,365.2 L465.8,365.2 L466.8,365.2 L467.8,365.2 L468.8,365.2 L469.8,365.2 L470.8,365.2 L471.8,365.2 L472.8,365.2 L473.8,365.2 L474.8,365.2 L475.8,365.2 L476.8,365.2 L477.8,365.2 L478.8,365.2 L479.8,365.2 L480.8,365.2 L481.8,365.2 L482.8,365.2 L483.8,365.2 L484.8,365.2 L485.8,365.2 L486.8,365.2 L487.8,365.2 L488.8,365.2 L489.8,365.2 L490.8,365.2 L491.8,365.2 L492.8,365.2 L493.8,365.2 L494.9,365.2 L495.9,365.2 L496.9,365.2 L497.9,365.2 L498.9,365.2 L499.9,365.2 L500.9,365.2 L501.9,365.2 L502.9,365.2 L503.9,365.2 L504.9,365.2 L505.9,365.2 L506.9,365.2 L507.9,365.2 L508.9,365.2 L509.9,365.2 L510.9,365.2 L511.9,365.2 L512.9,365.2 L513.9,365.2 L514.9,365.2 L515.9,365.2 L516.9,365.2 L517.9,365.2 L518.9,365.2 L519.9,365.2 L520.9,365.2 L521.9,365.2 L522.9,365.2 L523.9,365.2 L524.9,365.2 L525.9,365.2 L526.9,365.2 L527.9,365.2 L528.9,365.2 L529.9,365.2 L530.9,365.2 L531.9,365.2 L532.9,365.2 L533.9,365.2 L534.9,365.2 L535.9,365.2 L536.9,365.2 L537.9,365.2 L538.9,365.2 L539.9,365.2 L540.9,365.2 L541.9,365.2 L542.9,365.2 L543.9,365.2 L544.9,365.2 L545.9,365.2 L546.9,365.2 L547.9,365.2 L548.9,365.2 L549.9,365.2 L550.9,365.2 L551.9,365.2 L553.0,365.2 L554.0,365.2 L555.0,365.2 L556.0,365.2 L557.0,365.2 L558.0,365.2 L559.0,365.2 L560.0,365.2 L561.0,365.2 L562.0,365.2 L563.0,365.2 L564.0,365.2 L565.0,365.2 L566.0,365.2 L567.0,365.2 L568.0,365.2 L569.0,365.2 L570.0,365.2 L571.0,365.2 L572.0,365.2 L573.0,365.2 L574.0,365.2 L575.0,365.2 L576.0,365.2 L577.0,365.2 L578.0,365.2 L579.0,365.2 L580.0,365.2 L581.0,365.2" fill="none" stroke="#0000ff" stroke-width="3.2" stroke-linejoin="round" stroke-linecap="round"/>
<path d="M174.7,23.3 L174.7,24.3 L174.7,25.3 L174.7,26.3 L174.7,27.3 L174.7,28.3 L174.7,29.3 L174.7,30.3 L174.7,31.3 L174.7,32.3 L174.7,33.3 L174.7,34.3 L174.7,35.3 L174.7,36.3 L174.7,37.3 L174.7,38.3 L174.7,39.3 L174.7,40.3 L174.7,41.3 L174.7,42.3 L174.7,43.3 L174.7,44.3 L174.7,45.3 L174.7,46.3 L174.7,47.3 L174.8,48.3 L174.8,49.3 L174.9,50.3 L175.0,51.3 L175.1,52.3 L175.3,53.3 L175.5,54.2 L175.7,55.2 L176.0,56.2 L176.2,57.1 L176.5,58.1 L176.7,59.1 L177.0,60.1 L177.2,61.0 L177.5,62.0 L177.7,63.0 L178.0,63.9 L178.2,64.9 L178.5,65.9 L178.7,66.8 L178.9,67.8 L179.2,68.8 L179.4,69.8 L179.6,70.8 L179.8,71.7 L180.0,72.7 L180.2,73.7 L180.4,74.7 L180.5,75.7 L180.7,76.7 L180.8,77.6 L181.0,78.6 L181.1,79.6 L181.2,80.6 L181.4,81.6 L181.5,82.6 L181.6,83.6 L181.7,84.6 L181.8,85.6 L181.9,86.6 L182.0,87.6 L182.2,88.6 L182.3,89.6 L182.4,90.6 L182.6,91.6 L182.8,92.5 L182.9,93.5 L183.1,94.5 L183.3,95.5 L183.5,96.5 L183.7,97.4 L183.9,98.4 L184.1,99.4 L184.3,100.4 L184.5,101.4 L184.7,102.4 L184.8,103.3 L185.0,104.3 L185.1,105.3 L185.2,106.3 L185.3,107.3 L185.4,108.3 L185.4,109.3 L185.5,110.3 L185.6,111.3 L185.7,112.3 L185.7,113.3 L185.8,114.3 L185.9,115.3 L185.9,116.3 L186.0,117.3 L186.1,118.3 L186.2,119.3 L186.2,120.3 L186.3,121.3 L186.4,122.3 L186.5,123.3 L186.6,124.3 L186.7,125.3 L186.9,126.2 L187.1,127.2 L187.3,128.2 L187.6,129.2 L187.9,130.1 L188.2,131.1 L188.5,132.0 L188.7,133.0 L189.0,133.9 L189.3,134.9 L189.6,135.9 L189.8,136.8 L190.0,137.8 L190.2,138.8 L190.3,139.8 L190.5,140.8 L190.6,141.8 L190.8,142.7 L190.9,143.7 L191.0,144.7 L191.2,145.7 L191.3,146.7 L191.4,147.7 L191.6,148.7 L191.8,149.7 L192.0,150.7 L192.2,151.6 L192.4,152.6 L192.6,153.6 L192.8,154.6 L193.0,155.5 L193.3,156.5 L193.5,157.5 L193.7,158.5 L194.0,159.4 L194.2,160.4 L194.4,161.4 L194.7,162.4 L194.9,163.3 L195.1,164.3 L195.4,165.3 L195.6,166.3 L195.8,167.2 L196.0,168.2 L196.3,169.2 L196.5,170.2 L196.7,171.1 L197.0,172.1 L197.2,173.1 L197.4,174.1 L197.7,175.0 L197.9,176.0 L198.1,177.0 L198.3,178.0 L198.6,178.9 L198.8,179.9 L199.0,180.9 L199.3,181.9 L199.5,182.8 L199.7,183.8 L199.9,184.8 L200.1,185.8 L200.4,186.7 L200.6,187.7 L200.8,188.7 L201.0,189.7 L201.2,190.7 L201.4,191.6 L201.6,192.6 L201.8,193.6 L202.0,194.6 L202.2,195.6 L202.4,196.5 L202.6,197.5 L202.9,198.5 L203.1,199.5 L203.3,200.5 L203.5,201.4 L203.7,202.4 L203.9,203.4 L204.1,204.4 L204.3,205.4 L204.5,206.3 L204.7,207.3 L204.9,208.3 L205.1,209.3 L205.3,210.3 L205.5,211.2 L205.8,212.2 L206.0,213.2 L206.2,214.2 L206.4,215.2 L206.6,216.1 L206.8,217.1 L207.0,218.1 L207.2,219.1 L207.4,220.1 L207.6,221.0 L207.8,222.0 L208.0,223.0 L208.2,224.0 L208.4,225.0 L208.6,225.9 L208.9,226.9 L209.1,227.9 L209.2,228.9 L209.4,229.9 L209.6,230.9 L209.8,231.8 L210.0,232.8 L210.2,233.8 L210.4,234.8 L210.6,235.8 L210.7,236.8 L210.9,237.7 L211.1,238.7 L211.3,239.7 L211.5,240.7 L211.6,241.7 L211.8,242.7 L212.0,243.7 L212.2,244.6 L212.4,245.6 L212.6,246.6 L212.7,247.6 L212.9,248.6 L213.1,249.6 L213.3,250.6 L213.5,251.5 L213.6,252.5 L213.8,253.5 L214.0,254.5 L214.2,255.5 L214.4,256.5 L214.6,257.4 L214.7,258.4 L214.9,259.4 L215.1,260.4 L215.3,261.4 L215.5,262.4 L215.6,263.4 L215.8,264.3 L216.0,265.3 L216.2,266.3 L216.4,267.3 L216.6,268.3 L216.7,269.3 L216.9,270.2 L217.1,271.2 L217.3,272.2 L217.5,273.2 L217.7,274.2 L217.9,275.2 L218.1,276.1 L218.3,277.1 L218.5,278.1 L218.8,279.1 L219.0,280.0 L219.2,281.0 L219.4,282.0 L219.7,283.0 L219.9,283.9 L220.1,284.9 L220.4,285.9 L220.6,286.9 L220.8,287.8 L221.0,288.8 L221.3,289.8 L221.5,290.8 L221.7,291.7 L222.0,292.7 L222.2,293.7 L222.4,294.7 L222.6,295.7 L222.9,296.6 L223.1,297.6 L223.3,298.6 L223.5,299.6 L223.8,300.5 L224.0,301.5 L224.2,302.5 L224.5,303.5 L224.7,304.4 L224.9,305.4 L225.1,306.4 L225.4,307.3 L225.6,308.3 L225.9,309.3 L226.1,310.3 L226.4,311.2 L226.7,312.2 L227.0,313.1 L227.3,314.1 L227.6,315.0 L227.9,316.0 L228.3,316.9 L228.6,317.9 L228.9,318.8 L229.2,319.8 L229.5,320.7 L229.8,321.7 L230.2,322.6 L230.5,323.6 L230.8,324.5 L231.1,325.5 L231.4,326.4 L231.7,327.4 L232.1,328.3 L232.4,329.3 L232.7,330.2 L233.0,331.2 L233.3,332.1 L233.7,333.1 L234.0,334.0 L234.3,335.0 L234.7,335.9 L235.0,336.8 L235.4,337.7 L235.9,338.6 L236.4,339.5 L236.9,340.3 L237.4,341.1 L238.0,341.9 L238.7,342.7 L239.3,343.5 L239.9,344.2 L240.5,345.0 L241.2,345.8 L241.8,346.6 L242.5,347.3 L243.1,348.1 L243.8,348.9 L244.4,349.6 L245.1,350.4 L245.7,351.1 L246.4,351.8 L247.1,352.5 L247.9,353.1 L248.7,353.7 L249.5,354.3 L250.3,354.8 L251.2,355.3 L252.1,355.8 L252.9,356.2 L253.8,356.7 L254.7,357.1 L255.6,357.6 L256.5,358.0 L257.4,358.5 L258.3,358.9 L259.2,359.3 L260.1,359.7 L261.0,360.1 L262.0,360.5 L262.9,360.8 L263.9,361.0 L264.8,361.3 L265.8,361.5 L266.8,361.7 L267.8,361.9 L268.7,362.1 L269.7,362.3 L270.7,362.5 L271.7,362.7 L272.7,362.9 L273.6,363.1 L274.6,363.3 L275.6,363.5 L276.6,363.7 L277.6,363.9 L278.6,364.0 L279.6,364.1 L280.6,364.2 L281.5,364.3 L282.5,364.4 L283.5,364.4 L284.5,364.5 L285.5,364.5 L286.5,364.5 L287.5,364.6 L288.5,364.6 L289.5,364.6 L290.5,364.6 L291.5,364.6 L292.5,364.7 L293.6,364.7 L294.6,364.7 L295.6,364.7 L296.6,364.7 L297.6,364.8 L298.6,364.8 L299.6,364.8 L300.6,364.8 L301.6,364.8 L302.6,364.9 L303.6,364.9 L304.6,364.9 L305.6,364.9 L306.6,364.9 L307.6,365.0 L308.6,365.0 L309.6,365.0 L310.6,365.0 L311.6,365.0 L312.6,365.1 L313.6,365.1 L314.6,365.1 L315.6,365.1 L316.6,365.1 L317.6,365.1 L318.6,365.2 L319.6,365.2 L320.6,365.2 L321.6,365.2 L322.6,365.2 L323.6,365.2 L324.6,365.2 L325.6,365.2 L326.6,365.2 L327.6,365.2 L328.6,365.2 L329.6,365.2 L330.6,365.2 L331.6,365.2 L332.6,365.2 L333.6,365.2 L334.6,365.2 L335.6,365.2 L336.6,365.2 L337.6,365.2 L338.6,365.2 L339.6,365.2 L340.6,365.2 L341.6,365.2 L342.6,365.2 L343.6,365.2 L344.6,365.2 L345.6,365.2 L346.6,365.2 L347.6,365.2 L348.6,365.2 L349.6,365.2 L350.6,365.2 L351.6,365.2 L352.6,365.2 L353.6,365.2 L354.6,365.2 L355.6,365.2 L356.6,365.2 L357.6,365.2 L358.6,365.2 L359.7,365.2 L360.7,365.2 L361.7,365.2 L362.7,365.2 L363.7,365.2 L364.7,365.2 L365.7,365.2 L366.7,365.2 L367.7,365.2 L368.7,365.2 L369.7,365.2 L370.7,365.2 L371.7,365.2 L372.7,365.2 L373.7,365.2 L374.7,365.2 L375.7,365.2 L376.7,365.2 L377.7,365.2 L378.7,365.2 L379.7,365.2 L380.7,365.2 L381.7,365.2 L382.7,365.2 L383.7,365.2 L384.7,365.2 L385.7,365.2 L386.7,365.2 L387.7,365.2 L388.7,365.2 L389.7,365.2 L390.7,365.2 L391.7,365.2 L392.7,365.2 L393.7,365.2 L394.7,365.2 L395.7,365.2 L396.7,365.2 L397.7,365.2 L398.7,365.2 L399.7,365.2 L400.7,365.2 L401.7,365.2 L402.7,365.2 L403.7,365.2 L404.7,365.2 L405.7,365.2 L406.7,365.2 L407.7,365.2 L408.7,365.2 L409.7,365.2 L410.7,365.2 L411.7,365.2 L412.7,365.2 L413.7,365.2 L414.7,365.2 L415.7,365.2 L416.7,365.2 L417.7,365.2 L418.7,365.2 L419.7,365.2 L420.7,365.2 L421.7,365.2 L422.8,365.2 L423.8,365.2 L424.8,365.2 L425.8,365.2 L426.8,365.2 L427.8,365.2 L428.8,365.2 L429.8,365.2 L430.8,365.2 L431.8,365.2 L432.8,365.2 L433.8,365.2 L434.8,365.2 L435.8,365.2 L436.8,365.2 L437.8,365.2 L438.8,365.2 L439.8,365.2 L440.8,365.2 L441.8,365.2 L442.8,365.2 L443.8,365.2 L444.8,365.2 L445.8,365.2 L446.8,365.2 L447.8,365.2 L448.8,365.2 L449.8,365.2 L450.8,365.2 L451.8,365.2 L452.8,365.2 L453.8,365.2 L454.8,365.2 L455.8,365.2 L456.8,365.2 L457.8,365.2 L458.8,365.2 L459.8,365.2 L460.8,365.2 L461.8,365.2 L462.8,365.2 L463.8,365.2 L464.8,365.2 L465.8,365.2 L466.8,365.2 L467.8,365.2 L468.8,365.2 L469.8,365.2 L470.8,365.2 L471.8,365.2 L472.8,365.2 L473.8,365.2 L474.8,365.2 L475.8,365.2 L476.8,365.2 L477.8,365.2 L478.8,365.2 L479.8,365.2 L480.8,365.2 L481.8,365.2 L482.8,365.2 L483.8,365.2 L484.8,365.2 L485.8,365.2 L486.9,365.2 L487.9,365.2 L488.9,365.2 L489.9,365.2 L490.9,365.2 L491.9,365.2 L492.9,365.2 L493.9,365.2 L494.9,365.2 L495.9,365.2 L496.9,365.2 L497.9,365.2 L498.9,365.2 L499.9,365.2 L500.9,365.2 L501.9,365.2 L502.9,365.2 L503.9,365.2 L504.9,365.2 L505.9,365.2 L506.9,365.2 L507.9,365.2 L508.9,365.2 L509.9,365.2 L510.9,365.2 L511.9,365.2 L512.9,365.2 L513.9,365.2 L514.9,365.2 L515.9,365.2 L516.9,365.2 L517.9,365.2 L518.9,365.2 L519.9,365.2 L520.9,365.2 L521.9,365.2 L522.9,365.2 L523.9,365.2 L524.9,365.2 L525.9,365.2 L526.9,365.2 L527.9,365.2 L528.9,365.2 L529.9,365.2 L530.9,365.2 L531.9,365.2 L532.9,365.2 L533.9,365.2 L534.9,365.2 L535.9,365.2 L536.9,365.2 L537.9,365.2 L538.9,365.2 L539.9,365.2 L540.9,365.2 L541.9,365.2 L542.9,365.2 L543.9,365.2 L544.9,365.2 L545.9,365.2 L546.9,365.2 L547.9,365.2 L548.9,365.2 L550.0,365.2 L551.0,365.2 L552.0,365.2 L553.0,365.2 L554.0,365.2 L555.0,365.2 L556.0,365.2 L557.0,365.2 L558.0,365.2 L559.0,365.2 L560.0,365.2 L561.0,365.2 L562.0,365.2 L563.0,365.2 L564.0,365.2 L565.0,365.2 L566.0,365.2 L567.0,365.2 L568.0,365.2 L569.0,365.2 L570.0,365.2 L571.0,365.2 L572.0,365.2 L573.0,365.2 L574.0,365.2 L575.0,365.2 L576.0,365.2 L577.0,365.2 L578.0,365.2 L579.0,365.2 L580.0,365.2 L581.0,365.2" fill="none" stroke="#ff0000" stroke-width="3.2" stroke-linejoin="round" stroke-linecap="round"/>
<path d="M173.6,51.5 L176.5,51.5 L178.5,56 L180.6,59 L181.8,76.8 L173.6,76 Z" fill="#ff0000"/>
<rect x="83.5" y="23.0" width="498.0" height="371.8" fill="none" stroke="#3a3a3a" stroke-width="1.6"/>
<line x1="76.5" y1="365.2" x2="83.5" y2="365.2" stroke="#3a3a3a" stroke-width="1.5" />
<text x="70" y="371.5" font-size="22" text-anchor="end" fill="#1a1a1a"  stroke="#1a1a1a" stroke-width="0.3">0</text>
<line x1="76.5" y1="251.13" x2="83.5" y2="251.13" stroke="#3a3a3a" stroke-width="1.5" />
<text x="70" y="257.43" font-size="22" text-anchor="end" fill="#1a1a1a"  stroke="#1a1a1a" stroke-width="0.3">1</text>
<line x1="76.5" y1="137.06" x2="83.5" y2="137.06" stroke="#3a3a3a" stroke-width="1.5" />
<text x="70" y="143.36" font-size="22" text-anchor="end" fill="#1a1a1a"  stroke="#1a1a1a" stroke-width="0.3">2</text>
<line x1="76.5" y1="22.99000000000001" x2="83.5" y2="22.99000000000001" stroke="#3a3a3a" stroke-width="1.5" />
<text x="70" y="29.29000000000001" font-size="22" text-anchor="end" fill="#1a1a1a"  stroke="#1a1a1a" stroke-width="0.3">3</text>
<line x1="79.5" y1="308.16499999999996" x2="83.5" y2="308.16499999999996" stroke="#3a3a3a" stroke-width="1.5" />
<line x1="79.5" y1="194.095" x2="83.5" y2="194.095" stroke="#3a3a3a" stroke-width="1.5" />
<line x1="79.5" y1="80.02500000000003" x2="83.5" y2="80.02500000000003" stroke="#3a3a3a" stroke-width="1.5" />
<line x1="83.5" y1="394.8" x2="83.5" y2="401.8" stroke="#3a3a3a" stroke-width="1.5" />
<text x="82.3" y="423.2" font-size="22" text-anchor="middle" fill="#1a1a1a"  stroke="#1a1a1a" stroke-width="0.3">200</text>
<line x1="208.0" y1="394.8" x2="208.0" y2="401.8" stroke="#3a3a3a" stroke-width="1.5" />
<text x="206.8" y="423.2" font-size="22" text-anchor="middle" fill="#1a1a1a"  stroke="#1a1a1a" stroke-width="0.3">400</text>
<line x1="332.5" y1="394.8" x2="332.5" y2="401.8" stroke="#3a3a3a" stroke-width="1.5" />
<text x="331.3" y="423.2" font-size="22" text-anchor="middle" fill="#1a1a1a"  stroke="#1a1a1a" stroke-width="0.3">600</text>
<line x1="457.0" y1="394.8" x2="457.0" y2="401.8" stroke="#3a3a3a" stroke-width="1.5" />
<text x="455.8" y="423.2" font-size="22" text-anchor="middle" fill="#1a1a1a"  stroke="#1a1a1a" stroke-width="0.3">800</text>
<line x1="581.5" y1="394.8" x2="581.5" y2="401.8" stroke="#3a3a3a" stroke-width="1.5" />
<text x="580.3" y="423.2" font-size="22" text-anchor="middle" fill="#1a1a1a"  stroke="#1a1a1a" stroke-width="0.3">1000</text>
<line x1="145.75" y1="394.8" x2="145.75" y2="398.8" stroke="#3a3a3a" stroke-width="1.5" />
<line x1="270.25" y1="394.8" x2="270.25" y2="398.8" stroke="#3a3a3a" stroke-width="1.5" />
<line x1="394.75" y1="394.8" x2="394.75" y2="398.8" stroke="#3a3a3a" stroke-width="1.5" />
<line x1="519.25" y1="394.8" x2="519.25" y2="398.8" stroke="#3a3a3a" stroke-width="1.5" />
<text x="332" y="465.5" font-size="28.2" text-anchor="middle" fill="#1a1a1a"  stroke="#1a1a1a" stroke-width="0.3">Wavelength (nm)</text>
<text transform="translate(31.6,211.5) rotate(-90)" font-size="28.5" text-anchor="middle" fill="#1a1a1a">Absorbance</text>
<rect x="357.7" y="32.5" width="211.6" height="76.6" fill="#fff" stroke="#3a3a3a" stroke-width="1.4"/>
<line x1="362.5" y1="45.7" x2="404.5" y2="45.7" stroke="#000" stroke-width="3.0" />
<text x="408.4" y="51.7" font-size="16.6" text-anchor="start" fill="#1a1a1a" letter-spacing="1.45" stroke="#1a1a1a" stroke-width="0.3">HAuCl<tspan font-size="8" dy="6">4</tspan></text>
<line x1="362.5" y1="75.5" x2="404.5" y2="75.5" stroke="#0000ff" stroke-width="3.0" />
<text x="408.4" y="81.5" font-size="16.6" text-anchor="start" fill="#1a1a1a" letter-spacing="1.45" stroke="#1a1a1a" stroke-width="0.3">Au NCs</text>
<line x1="362.5" y1="98.3" x2="404.5" y2="98.3" stroke="#ff0000" stroke-width="3.0" />
<text x="408.4" y="104.3" font-size="16.6" text-anchor="start" fill="#1a1a1a" letter-spacing="1.45" stroke="#1a1a1a" stroke-width="0.3">Au NCs-PNIPAAm</text>
</g>
<g id="panelB">
<text x="616" y="76.5" font-size="51" text-anchor="start" fill="#1a1a1a"  stroke="#1a1a1a" stroke-width="0.3">b</text>
<path d="M790.0,390.5 L792.0,391.0 L794.0,390.7 L796.0,391.0 L798.0,391.1 L800.0,390.3 L802.0,390.2 L804.0,391.4 L806.0,390.6 L808.0,390.5 L810.0,391.6 L812.0,390.9 L814.0,391.4 L816.0,390.9 L818.0,391.1 L820.0,390.4 L822.0,391.1 L824.0,391.4 L826.0,390.9 L828.0,391.2 L830.0,391.1 L832.0,390.3 L834.0,391.3 L836.0,391.0 L838.0,390.6 L840.0,390.2 L842.0,391.4 L844.0,390.9 L846.0,391.2 L848.0,391.4 L850.0,391.2 L852.0,391.5 L854.0,390.8 L856.0,391.3 L858.0,390.8 L860.0,391.5 L862.0,391.4 L864.0,390.3 L866.0,390.4 L868.0,390.5 L870.0,391.6 L872.0,390.8 L874.0,391.1 L876.0,390.6 L878.0,390.9 L880.0,390.7 L882.0,390.7 L884.0,391.0 L886.0,391.0 L888.0,391.5 L890.0,391.2 L892.0,391.5 L894.0,391.4 L896.0,391.6 L898.0,391.1 L900.0,390.4 L902.0,391.4 L904.0,391.6 L906.0,391.5 L908.0,391.0 L910.0,391.2 L912.0,390.5 L914.0,391.4 L916.0,391.0 L918.0,390.6 L920.0,390.3 L922.0,391.4 L924.0,391.6 L926.0,390.3 L928.0,391.3 L930.0,390.8 L932.0,390.4 L934.0,390.6 L936.0,391.3 L938.0,391.4 L940.0,390.3 L942.0,391.1 L944.0,390.3 L946.0,391.2 L948.0,390.7 L950.0,391.4 L952.0,391.6 L954.0,390.9 L956.0,391.6 L958.0,390.6 L960.0,390.3 L962.0,391.0 L964.0,390.2 L966.0,390.5 L968.0,390.8 L970.0,391.1 L972.0,390.4 L974.0,390.3 L976.0,391.4 L978.0,390.6 L980.0,391.5 L982.0,391.5 L984.0,390.7 L986.0,390.8 L988.0,390.9 L990.0,391.1 L992.0,391.0 L994.0,391.0 L996.0,391.1 L998.0,391.5 L1000.0,390.9 L1002.0,390.8 L1004.0,391.2 L1006.0,390.5 L1008.0,390.6 L1010.0,391.6 L1012.0,390.9 L1014.0,391.0 L1016.0,390.2 L1018.0,390.8 L1020.0,391.0 L1022.0,390.2 L1024.0,391.1 L1026.0,391.1 L1028.0,390.3 L1030.0,391.1 L1032.0,390.9 L1034.0,391.2 L1036.0,390.7 L1038.0,391.2 L1040.0,391.2 L1042.0,390.2 L1044.0,390.3 L1046.0,391.1 L1048.0,391.5 L1050.0,390.6 L1052.0,390.8 L1054.0,391.0 L1056.0,390.6 L1058.0,390.7 L1060.0,390.6 L1062.0,390.7 L1064.0,391.0 L1066.0,390.6 L1068.0,390.7 L1070.0,391.3 L1072.0,390.2 L1074.0,391.0 L1076.0,391.2 L1078.0,390.6 L1080.0,390.5 L1082.0,391.3 L1084.0,390.5 L1086.0,390.5 L1088.0,390.8 L1090.0,391.2 L1092.0,390.3 L1094.0,390.7 L1096.0,390.7 L1098.0,391.4 L1100.0,390.8 L1102.0,391.4 L1104.0,390.4 L1106.0,390.7 L1108.0,391.1 L1110.0,391.4 L1112.0,390.8 L1114.0,390.5 L1116.0,390.4 L1118.0,390.9 L1120.0,390.5 L1122.0,391.3 L1124.0,391.4" fill="none" stroke="#000" stroke-width="1.6" stroke-linejoin="round" stroke-linecap="round"/>
<path d="M711.5,392.1 L712.5,392.0 L713.5,391.9 L714.5,391.9 L715.5,391.8 L716.5,391.7 L717.5,391.6 L718.4,391.4 L719.4,391.2 L720.3,390.9 L721.1,390.5 L722.0,390.0 L722.8,389.5 L723.5,388.8 L724.3,388.2 L725.0,387.5 L725.8,386.9 L726.5,386.2 L727.3,385.6 L728.1,384.9 L728.8,384.3 L729.6,383.6 L730.4,383.0 L731.2,382.5 L732.0,381.9 L732.9,381.3 L733.7,380.8 L734.6,380.3 L735.4,379.7 L736.3,379.2 L737.1,378.7 L738.0,378.2 L738.9,377.7 L739.7,377.3 L740.6,376.8 L741.6,376.4 L742.5,376.0 L743.4,375.7 L744.3,375.3 L745.3,375.0 L746.2,374.6 L747.2,374.3 L748.1,373.9 L749.0,373.6 L750.0,373.3 L750.9,372.9 L751.9,372.6 L752.8,372.3 L753.8,372.0 L754.7,371.8 L755.7,371.6 L756.7,371.4 L757.7,371.2 L758.7,371.1 L759.7,370.9 L760.7,370.8 L761.7,370.7 L762.6,370.5 L763.6,370.4 L764.6,370.3 L765.6,370.2 L766.6,370.1 L767.6,370.0 L768.6,369.9 L769.6,369.9 L770.6,369.9 L771.6,370.0 L772.6,370.0 L773.6,370.1 L774.6,370.2 L775.6,370.3 L776.6,370.3 L777.6,370.4 L778.6,370.5 L779.6,370.6 L780.6,370.7 L781.6,370.8 L782.6,370.9 L783.6,371.0 L784.6,371.0 L785.6,371.1 L786.5,371.1 L787.5,371.0 L788.5,370.9 L789.5,370.8 L790.5,370.7 L791.5,370.5 L792.4,370.3 L793.4,370.0 L794.3,369.8 L795.2,369.4 L796.1,369.0 L796.9,368.4 L797.7,367.9 L798.5,367.3 L799.3,366.6 L800.0,366.0 L800.8,365.3 L801.5,364.7 L802.3,364.0 L803.0,363.3 L803.7,362.6 L804.5,361.9 L805.2,361.2 L805.9,360.5 L806.6,359.8 L807.3,359.1 L808.0,358.4 L808.7,357.7 L809.4,357.0 L810.1,356.2 L810.7,355.5 L811.3,354.7 L811.8,353.8 L812.4,353.0 L812.9,352.1 L813.4,351.3 L813.9,350.4 L814.3,349.5 L814.8,348.6 L815.3,347.8 L815.8,346.9 L816.2,346.0 L816.7,345.1 L817.1,344.2 L817.5,343.3 L817.9,342.4 L818.2,341.4 L818.6,340.5 L818.9,339.5 L819.2,338.6 L819.5,337.6 L819.8,336.7 L820.2,335.7 L820.5,334.8 L820.8,333.8 L821.1,332.9 L821.4,331.9 L821.7,331.0 L822.1,330.0 L822.4,329.1 L822.7,328.1 L822.9,327.2 L823.2,326.2 L823.5,325.2 L823.8,324.3 L824.1,323.3 L824.4,322.3 L824.6,321.4 L824.9,320.4 L825.2,319.5 L825.5,318.5 L825.7,317.5 L826.0,316.6 L826.3,315.6 L826.6,314.7 L826.9,313.7 L827.2,312.8 L827.6,311.8 L827.9,310.9 L828.3,309.9 L828.6,309.0 L829.0,308.1 L829.4,307.1 L829.7,306.2 L830.1,305.3 L830.4,304.3 L830.8,303.4 L831.1,302.4 L831.5,301.5 L831.8,300.6 L832.1,299.6 L832.3,298.6 L832.6,297.7 L832.8,296.7 L833.0,295.7 L833.3,294.7 L833.5,293.8 L833.7,292.8 L833.9,291.8 L834.1,290.8 L834.3,289.8 L834.6,288.9 L834.8,287.9 L835.0,286.9 L835.2,285.9 L835.4,285.0 L835.6,284.0 L835.9,283.0 L836.1,282.0 L836.3,281.0 L836.5,280.1 L836.7,279.1 L836.9,278.1 L837.2,277.1 L837.4,276.1 L837.6,275.2 L837.8,274.2 L838.0,273.2 L838.2,272.2 L838.4,271.3 L838.7,270.3 L838.9,269.3 L839.1,268.3 L839.3,267.3 L839.6,266.4 L839.8,265.4 L840.0,264.4 L840.2,263.4 L840.5,262.5 L840.7,261.5 L840.9,260.5 L841.1,259.5 L841.4,258.6 L841.6,257.6 L841.8,256.6 L842.0,255.6 L842.3,254.7 L842.5,253.7 L842.7,252.7 L842.9,251.7 L843.2,250.8 L843.4,249.8 L843.6,248.8 L843.9,247.8 L844.1,246.9 L844.3,245.9 L844.5,244.9 L844.8,243.9 L845.0,242.9 L845.2,242.0 L845.4,241.0 L845.7,240.0 L845.9,239.0 L846.1,238.1 L846.3,237.1 L846.5,236.1 L846.7,235.1 L846.9,234.1 L847.1,233.2 L847.3,232.2 L847.5,231.2 L847.7,230.2 L847.9,229.2 L848.1,228.2 L848.3,227.3 L848.5,226.3 L848.7,225.3 L848.9,224.3 L849.1,223.3 L849.3,222.4 L849.5,221.4 L849.7,220.4 L849.9,219.4 L850.1,218.4 L850.3,217.4 L850.5,216.5 L850.7,215.5 L850.9,214.5 L851.0,213.5 L851.2,212.5 L851.4,211.5 L851.6,210.6 L851.8,209.6 L852.0,208.6 L852.2,207.6 L852.4,206.6 L852.6,205.6 L852.8,204.7 L853.0,203.7 L853.2,202.7 L853.4,201.7 L853.6,200.7 L853.8,199.8 L854.0,198.8 L854.2,197.8 L854.5,196.8 L854.7,195.8 L854.9,194.9 L855.1,193.9 L855.3,192.9 L855.5,191.9 L855.7,190.9 L855.9,189.9 L856.1,189.0 L856.3,188.0 L856.5,187.0 L856.7,186.0 L856.9,185.0 L857.1,184.1 L857.3,183.1 L857.5,182.1 L857.7,181.1 L857.9,180.1 L858.1,179.2 L858.3,178.2 L858.5,177.2 L858.7,176.2 L858.9,175.2 L859.1,174.3 L859.3,173.3 L859.5,172.3 L859.8,171.3 L860.0,170.3 L860.3,169.4 L860.5,168.4 L860.8,167.4 L861.1,166.5 L861.3,165.5 L861.6,164.6 L861.9,163.6 L862.2,162.6 L862.5,161.7 L862.8,160.7 L863.1,159.8 L863.4,158.8 L863.6,157.8 L863.9,156.9 L864.2,155.9 L864.5,155.0 L864.8,154.0 L865.1,153.0 L865.4,152.1 L865.7,151.1 L865.9,150.2 L866.2,149.2 L866.5,148.2 L866.8,147.3 L867.1,146.3 L867.3,145.4 L867.6,144.4 L867.9,143.4 L868.2,142.5 L868.5,141.5 L868.7,140.5 L869.0,139.6 L869.3,138.6 L869.6,137.7 L869.8,136.7 L870.1,135.7 L870.4,134.8 L870.7,133.8 L871.0,132.8 L871.2,131.9 L871.5,130.9 L871.8,130.0 L872.1,129.0 L872.4,128.0 L872.7,127.1 L873.0,126.1 L873.4,125.2 L873.7,124.3 L874.1,123.3 L874.4,122.4 L874.8,121.4 L875.1,120.5 L875.5,119.6 L875.8,118.6 L876.2,117.7 L876.5,116.8 L876.9,115.8 L877.2,114.9 L877.6,113.9 L877.9,113.0 L878.3,112.1 L878.7,111.1 L879.0,110.2 L879.4,109.3 L879.8,108.4 L880.3,107.5 L880.8,106.6 L881.3,105.8 L881.9,105.0 L882.4,104.1 L883.0,103.3 L883.6,102.5 L884.2,101.7 L884.8,101.0 L885.5,100.2 L886.2,99.6 L886.9,99.0 L887.7,98.5 L888.6,98.0 L889.5,97.7 L890.4,97.4 L891.3,97.3 L892.2,97.3 L893.1,97.4 L894.0,97.6 L895.0,97.9 L895.8,98.3 L896.7,98.7 L897.5,99.2 L898.3,99.8 L899.1,100.4 L899.8,101.1 L900.4,101.9 L901.0,102.6 L901.6,103.4 L902.2,104.3 L902.7,105.1 L903.2,105.9 L903.7,106.8 L904.1,107.7 L904.5,108.6 L904.8,109.6 L905.2,110.5 L905.5,111.5 L905.8,112.4 L906.1,113.4 L906.4,114.3 L906.8,115.3 L907.1,116.2 L907.4,117.2 L907.7,118.1 L908.0,119.1 L908.3,120.0 L908.7,121.0 L909.0,121.9 L909.3,122.9 L909.6,123.8 L909.9,124.8 L910.2,125.7 L910.6,126.7 L910.9,127.6 L911.2,128.6 L911.5,129.5 L911.8,130.5 L912.1,131.4 L912.5,132.4 L912.8,133.3 L913.1,134.3 L913.4,135.2 L913.7,136.2 L914.0,137.1 L914.4,138.1 L914.7,139.0 L915.0,140.0 L915.3,140.9 L915.6,141.9 L915.9,142.8 L916.3,143.8 L916.6,144.7 L916.9,145.7 L917.2,146.6 L917.5,147.6 L917.8,148.5 L918.1,149.5 L918.4,150.5 L918.7,151.4 L919.0,152.4 L919.3,153.3 L919.6,154.3 L919.9,155.2 L920.2,156.2 L920.5,157.2 L920.8,158.1 L921.0,159.1 L921.3,160.0 L921.6,161.0 L921.9,162.0 L922.2,162.9 L922.5,163.9 L922.8,164.8 L923.1,165.8 L923.4,166.7 L923.7,167.7 L924.0,168.7 L924.2,169.6 L924.5,170.6 L924.8,171.6 L925.0,172.5 L925.2,173.5 L925.5,174.5 L925.7,175.5 L925.9,176.4 L926.0,177.4 L926.2,178.4 L926.4,179.4 L926.6,180.4 L926.8,181.4 L927.0,182.3 L927.2,183.3 L927.4,184.3 L927.6,185.3 L927.9,186.3 L928.1,187.2 L928.3,188.2 L928.6,189.2 L928.8,190.1 L929.1,191.1 L929.4,192.1 L929.6,193.0 L929.9,194.0 L930.1,195.0 L930.4,196.0 L930.6,196.9 L930.9,197.9 L931.1,198.9 L931.4,199.8 L931.6,200.8 L931.9,201.8 L932.1,202.7 L932.4,203.7 L932.7,204.7 L932.9,205.6 L933.2,206.6 L933.4,207.6 L933.7,208.6 L933.9,209.5 L934.2,210.5 L934.4,211.5 L934.7,212.4 L934.9,213.4 L935.2,214.4 L935.4,215.3 L935.7,216.3 L935.9,217.3 L936.2,218.3 L936.4,219.2 L936.6,220.2 L936.9,221.2 L937.1,222.2 L937.3,223.1 L937.6,224.1 L937.8,225.1 L938.0,226.1 L938.3,227.0 L938.5,228.0 L938.7,229.0 L939.0,230.0 L939.2,230.9 L939.4,231.9 L939.7,232.9 L939.9,233.9 L940.1,234.8 L940.3,235.8 L940.6,236.8 L940.8,237.8 L941.0,238.7 L941.3,239.7 L941.5,240.7 L941.7,241.7 L942.0,242.6 L942.2,243.6 L942.4,244.6 L942.7,245.6 L942.9,246.5 L943.1,247.5 L943.4,248.5 L943.6,249.4 L943.8,250.4 L944.1,251.4 L944.3,252.4 L944.6,253.3 L944.9,254.3 L945.2,255.3 L945.4,256.2 L945.7,257.2 L946.0,258.1 L946.3,259.1 L946.6,260.1 L946.8,261.0 L947.1,262.0 L947.4,262.9 L947.7,263.9 L948.0,264.9 L948.3,265.8 L948.5,266.8 L948.8,267.8 L949.1,268.7 L949.4,269.7 L949.7,270.6 L949.9,271.6 L950.2,272.6 L950.5,273.5 L950.8,274.5 L951.1,275.4 L951.4,276.4 L951.6,277.4 L951.9,278.3 L952.2,279.3 L952.5,280.3 L952.8,281.2 L953.0,282.2 L953.3,283.1 L953.6,284.1 L953.9,285.1 L954.2,286.0 L954.5,287.0 L954.9,287.9 L955.2,288.8 L955.6,289.8 L955.9,290.7 L956.3,291.6 L956.7,292.6 L957.1,293.5 L957.5,294.4 L957.9,295.3 L958.2,296.3 L958.6,297.2 L959.0,298.1 L959.4,299.0 L959.8,300.0 L960.2,300.9 L960.6,301.8 L960.9,302.7 L961.3,303.7 L961.7,304.6 L962.1,305.5 L962.5,306.4 L962.9,307.4 L963.2,308.3 L963.6,309.2 L964.0,310.1 L964.4,311.1 L964.8,312.0 L965.2,312.9 L965.6,313.8 L966.0,314.7 L966.4,315.7 L966.8,316.6 L967.2,317.5 L967.6,318.4 L968.0,319.3 L968.4,320.2 L968.8,321.2 L969.2,322.1 L969.6,323.0 L970.0,323.9 L970.5,324.8 L970.9,325.7 L971.3,326.6 L971.7,327.6 L972.1,328.5 L972.5,329.4 L972.9,330.3 L973.4,331.2 L973.8,332.1 L974.3,333.0 L974.8,333.8 L975.3,334.7 L975.8,335.6 L976.3,336.4 L976.8,337.3 L977.3,338.2 L977.8,339.0 L978.3,339.9 L978.8,340.8 L979.3,341.6 L979.8,342.5 L980.3,343.4 L980.8,344.2 L981.3,345.1 L981.9,345.9 L982.4,346.8 L982.9,347.6 L983.5,348.5 L984.0,349.3 L984.6,350.1 L985.1,351.0 L985.7,351.8 L986.2,352.7 L986.8,353.5 L987.4,354.3 L987.9,355.1 L988.5,356.0 L989.1,356.8 L989.7,357.6 L990.3,358.3 L991.0,359.1 L991.7,359.8 L992.4,360.5 L993.1,361.2 L993.8,361.9 L994.6,362.6 L995.3,363.3 L996.0,363.9 L996.7,364.6 L997.5,365.3 L998.2,366.0 L999.0,366.7 L999.7,367.3 L1000.5,368.0 L1001.2,368.6 L1002.0,369.3 L1002.8,369.9 L1003.6,370.5 L1004.3,371.2 L1005.1,371.8 L1005.9,372.4 L1006.7,373.0 L1007.5,373.6 L1008.4,374.1 L1009.2,374.6 L1010.1,375.1 L1011.0,375.5 L1011.9,375.9 L1012.8,376.3 L1013.7,376.7 L1014.7,377.1 L1015.6,377.5 L1016.5,377.8 L1017.4,378.2 L1018.4,378.6 L1019.3,379.0 L1020.2,379.4 L1021.1,379.8 L1022.1,380.2 L1023.0,380.5 L1023.9,380.9 L1024.9,381.2 L1025.8,381.5 L1026.8,381.8 L1027.7,382.1 L1028.7,382.3 L1029.7,382.5 L1030.7,382.7 L1031.6,382.9 L1032.6,383.1 L1033.6,383.3 L1034.6,383.5 L1035.6,383.7 L1036.6,383.9 L1037.5,384.1 L1038.5,384.3 L1039.5,384.5 L1040.5,384.7 L1041.5,384.9 L1042.5,385.0 L1043.5,385.2 L1044.4,385.4 L1045.4,385.5 L1046.4,385.6 L1047.4,385.8 L1048.4,385.9 L1049.4,386.0 L1050.4,386.1 L1051.4,386.3 L1052.4,386.4 L1053.4,386.5 L1054.4,386.6 L1055.4,386.8 L1056.4,386.9 L1057.4,387.0 L1058.4,387.1 L1059.3,387.3 L1060.3,387.4 L1061.3,387.5 L1062.3,387.6 L1063.3,387.8 L1064.3,387.9 L1065.3,388.0 L1066.3,388.1 L1067.3,388.2 L1068.3,388.3 L1069.3,388.4 L1070.3,388.5 L1071.3,388.6 L1072.3,388.7 L1073.3,388.8 L1074.3,388.9 L1075.3,389.0 L1076.3,389.1 L1077.3,389.2 L1078.3,389.3 L1079.3,389.4 L1080.3,389.5 L1081.3,389.6 L1082.3,389.7 L1083.3,389.8 L1084.3,389.9 L1085.3,390.0 L1086.2,390.1 L1087.2,390.2 L1088.2,390.3 L1089.2,390.4 L1090.2,390.4 L1091.2,390.5 L1092.2,390.5 L1093.2,390.5 L1094.2,390.6 L1095.2,390.6 L1096.2,390.6 L1097.2,390.6 L1098.3,390.6 L1099.3,390.7 L1100.3,390.7 L1101.3,390.7 L1102.3,390.7 L1103.3,390.7 L1104.3,390.7 L1105.3,390.8 L1106.3,390.8 L1107.3,390.8 L1108.3,390.8 L1109.3,390.8 L1110.3,390.8 L1111.3,390.9 L1112.3,390.9 L1113.3,390.9 L1114.3,390.9 L1115.3,390.9 L1116.3,390.9 L1117.3,391.0 L1118.3,391.0 L1119.3,391.0 L1120.3,391.0 L1121.3,391.0 L1122.3,391.0 L1123.3,391.1 L1124.3,391.1 L1125.3,391.1" fill="none" stroke="#ff0000" stroke-width="3.2" stroke-linejoin="round" stroke-linecap="round"/>
<path d="M720.7,390.9 L721.7,390.9 L722.7,390.9 L723.7,390.9 L724.7,390.9 L725.7,390.8 L726.7,390.8 L727.7,390.8 L728.7,390.8 L729.7,390.8 L730.7,390.8 L731.7,390.8 L732.7,390.8 L733.7,390.7 L734.7,390.7 L735.7,390.7 L736.7,390.7 L737.7,390.7 L738.7,390.7 L739.7,390.7 L740.7,390.7 L741.7,390.6 L742.7,390.6 L743.8,390.6 L744.8,390.6 L745.8,390.6 L746.8,390.6 L747.8,390.6 L748.8,390.6 L749.8,390.5 L750.8,390.5 L751.8,390.5 L752.8,390.5 L753.8,390.5 L754.8,390.5 L755.8,390.5 L756.8,390.5 L757.8,390.5 L758.8,390.4 L759.8,390.4 L760.8,390.4 L761.8,390.4 L762.8,390.4 L763.8,390.4 L764.8,390.4 L765.8,390.4 L766.8,390.3 L767.8,390.3 L768.8,390.3 L769.8,390.3 L770.8,390.3 L771.8,390.3 L772.8,390.3 L773.8,390.3 L774.8,390.2 L775.8,390.2 L776.8,390.1 L777.8,390.1 L778.8,390.0 L779.8,389.8 L780.8,389.6 L781.7,389.5 L782.7,389.2 L783.7,389.0 L784.7,388.8 L785.7,388.6 L786.6,388.3 L787.6,388.1 L788.6,387.8 L789.5,387.5 L790.5,387.2 L791.4,386.9 L792.3,386.5 L793.2,386.1 L794.1,385.6 L795.0,385.2 L795.9,384.7 L796.8,384.2 L797.7,383.8 L798.5,383.2 L799.4,382.7 L800.2,382.2 L801.0,381.6 L801.8,381.0 L802.6,380.4 L803.4,379.8 L804.2,379.2 L805.0,378.6 L805.8,378.0 L806.5,377.3 L807.3,376.6 L808.0,375.9 L808.7,375.2 L809.4,374.5 L810.0,373.7 L810.7,373.0 L811.4,372.2 L812.0,371.5 L812.7,370.7 L813.3,370.0 L813.9,369.2 L814.6,368.4 L815.2,367.6 L815.8,366.8 L816.4,366.0 L817.0,365.2 L817.6,364.4 L818.2,363.6 L818.8,362.8 L819.4,362.0 L820.0,361.2 L820.5,360.3 L821.1,359.5 L821.6,358.7 L822.2,357.8 L822.7,357.0 L823.2,356.1 L823.7,355.3 L824.2,354.4 L824.8,353.5 L825.3,352.7 L825.8,351.8 L826.3,350.9 L826.7,350.1 L827.2,349.2 L827.7,348.3 L828.1,347.4 L828.5,346.5 L828.9,345.6 L829.4,344.7 L829.8,343.7 L830.2,342.8 L830.6,341.9 L831.0,341.0 L831.4,340.1 L831.9,339.2 L832.3,338.3 L832.7,337.3 L833.1,336.4 L833.4,335.5 L833.8,334.6 L834.2,333.6 L834.5,332.7 L834.9,331.8 L835.2,330.8 L835.6,329.9 L835.9,328.9 L836.3,328.0 L836.6,327.1 L837.0,326.1 L837.3,325.2 L837.7,324.3 L838.1,323.3 L838.4,322.4 L838.8,321.4 L839.1,320.5 L839.5,319.6 L839.8,318.6 L840.2,317.7 L840.5,316.7 L840.9,315.8 L841.2,314.9 L841.6,313.9 L841.9,313.0 L842.3,312.1 L842.6,311.1 L843.0,310.2 L843.3,309.2 L843.7,308.3 L844.0,307.4 L844.4,306.4 L844.7,305.5 L845.1,304.5 L845.4,303.6 L845.8,302.7 L846.2,301.7 L846.5,300.8 L846.9,299.9 L847.2,298.9 L847.6,298.0 L848.0,297.1 L848.4,296.2 L848.8,295.2 L849.2,294.3 L849.5,293.4 L849.9,292.5 L850.3,291.5 L850.7,290.6 L851.1,289.7 L851.5,288.8 L851.9,287.8 L852.3,286.9 L852.6,286.0 L853.0,285.1 L853.4,284.1 L853.8,283.2 L854.2,282.3 L854.6,281.4 L855.0,280.5 L855.4,279.5 L855.8,278.6 L856.3,277.7 L856.7,276.8 L857.1,275.9 L857.6,275.0 L858.0,274.1 L858.5,273.2 L858.9,272.3 L859.4,271.4 L859.8,270.5 L860.3,269.6 L860.7,268.8 L861.2,267.9 L861.6,267.0 L862.1,266.1 L862.5,265.2 L863.0,264.3 L863.5,263.4 L864.0,262.5 L864.5,261.7 L865.0,260.8 L865.6,260.0 L866.1,259.2 L866.7,258.3 L867.2,257.5 L867.8,256.7 L868.3,255.8 L868.9,255.0 L869.5,254.2 L870.1,253.4 L870.7,252.6 L871.4,251.9 L872.0,251.1 L872.7,250.4 L873.4,249.6 L874.1,248.9 L874.7,248.1 L875.4,247.4 L876.1,246.7 L876.8,245.9 L877.4,245.2 L878.1,244.4 L878.8,243.7 L879.4,242.9 L880.1,242.2 L880.8,241.5 L881.5,240.8 L882.2,240.1 L883.0,239.4 L883.8,238.8 L884.6,238.2 L885.4,237.7 L886.2,237.1 L887.1,236.6 L888.0,236.2 L888.9,235.7 L889.8,235.4 L890.7,235.1 L891.6,234.9 L892.5,234.8 L893.5,234.8 L894.4,234.9 L895.4,235.1 L896.3,235.4 L897.3,235.7 L898.2,236.1 L899.1,236.5 L899.9,237.0 L900.8,237.5 L901.6,238.0 L902.4,238.6 L903.2,239.2 L904.0,239.9 L904.7,240.5 L905.5,241.2 L906.2,241.9 L906.8,242.6 L907.5,243.4 L908.1,244.2 L908.8,244.9 L909.4,245.7 L910.0,246.5 L910.7,247.3 L911.3,248.0 L911.9,248.8 L912.5,249.6 L913.2,250.4 L913.8,251.2 L914.4,252.0 L915.0,252.8 L915.6,253.6 L916.2,254.4 L916.8,255.2 L917.4,256.0 L918.0,256.8 L918.5,257.6 L919.1,258.5 L919.6,259.3 L920.1,260.2 L920.6,261.0 L921.2,261.9 L921.7,262.7 L922.2,263.6 L922.7,264.5 L923.2,265.3 L923.7,266.2 L924.2,267.1 L924.7,267.9 L925.2,268.8 L925.7,269.7 L926.2,270.6 L926.7,271.4 L927.1,272.3 L927.6,273.2 L928.1,274.1 L928.6,275.0 L929.1,275.8 L929.5,276.7 L930.0,277.6 L930.5,278.5 L931.0,279.3 L931.5,280.2 L932.0,281.1 L932.5,282.0 L933.0,282.8 L933.5,283.7 L934.0,284.6 L934.5,285.4 L935.0,286.3 L935.5,287.2 L936.0,288.0 L936.5,288.9 L937.0,289.8 L937.5,290.6 L938.0,291.5 L938.5,292.4 L939.0,293.2 L939.5,294.1 L940.0,295.0 L940.5,295.8 L941.0,296.7 L941.5,297.6 L942.0,298.4 L942.6,299.3 L943.1,300.2 L943.6,301.0 L944.1,301.8 L944.7,302.7 L945.3,303.5 L945.8,304.3 L946.4,305.1 L947.0,306.0 L947.6,306.8 L948.2,307.6 L948.8,308.4 L949.4,309.2 L950.0,310.0 L950.6,310.8 L951.2,311.6 L951.8,312.4 L952.4,313.2 L953.0,314.0 L953.7,314.7 L954.3,315.5 L955.0,316.2 L955.7,317.0 L956.3,317.7 L957.0,318.5 L957.7,319.2 L958.3,320.0 L959.0,320.7 L959.7,321.4 L960.4,322.2 L961.0,322.9 L961.7,323.7 L962.4,324.4 L963.0,325.2 L963.7,325.9 L964.4,326.6 L965.1,327.4 L965.7,328.1 L966.4,328.9 L967.1,329.6 L967.8,330.4 L968.4,331.1 L969.1,331.9 L969.8,332.6 L970.4,333.3 L971.1,334.1 L971.8,334.8 L972.5,335.5 L973.2,336.3 L973.9,337.0 L974.6,337.7 L975.3,338.3 L976.1,339.0 L976.8,339.7 L977.6,340.4 L978.3,341.1 L979.0,341.7 L979.8,342.4 L980.5,343.1 L981.3,343.8 L982.0,344.4 L982.7,345.1 L983.5,345.8 L984.2,346.4 L985.0,347.1 L985.8,347.7 L986.5,348.4 L987.3,349.0 L988.1,349.6 L988.9,350.2 L989.7,350.8 L990.5,351.4 L991.4,352.0 L992.2,352.6 L993.0,353.2 L993.8,353.7 L994.6,354.3 L995.4,354.9 L996.2,355.5 L997.0,356.1 L997.8,356.7 L998.7,357.2 L999.5,357.8 L1000.3,358.3 L1001.2,358.8 L1002.1,359.3 L1003.0,359.8 L1003.8,360.3 L1004.7,360.7 L1005.6,361.2 L1006.5,361.6 L1007.4,362.1 L1008.3,362.5 L1009.2,363.0 L1010.1,363.5 L1011.0,363.9 L1011.9,364.4 L1012.8,364.8 L1013.7,365.3 L1014.6,365.7 L1015.4,366.2 L1016.3,366.7 L1017.2,367.1 L1018.1,367.6 L1019.0,368.0 L1019.9,368.5 L1020.8,368.9 L1021.7,369.4 L1022.6,369.8 L1023.5,370.3 L1024.4,370.7 L1025.3,371.1 L1026.2,371.4 L1027.2,371.8 L1028.1,372.1 L1029.1,372.3 L1030.1,372.6 L1031.0,372.8 L1032.0,373.1 L1033.0,373.3 L1033.9,373.6 L1034.9,373.8 L1035.9,374.1 L1036.9,374.3 L1037.8,374.5 L1038.8,374.8 L1039.8,375.0 L1040.8,375.3 L1041.7,375.5 L1042.7,375.7 L1043.7,376.0 L1044.6,376.2 L1045.6,376.5 L1046.6,376.7 L1047.6,377.0 L1048.5,377.2 L1049.5,377.5 L1050.4,377.8 L1051.4,378.1 L1052.4,378.4 L1053.3,378.7 L1054.3,379.0 L1055.2,379.3 L1056.2,379.6 L1057.1,380.0 L1058.1,380.3 L1059.0,380.6 L1060.0,380.9 L1060.9,381.2 L1061.9,381.5 L1062.8,381.9 L1063.8,382.2 L1064.7,382.5 L1065.7,382.8 L1066.6,383.2 L1067.6,383.5 L1068.5,383.8 L1069.4,384.2 L1070.4,384.6 L1071.3,384.9 L1072.2,385.3 L1073.2,385.6 L1074.1,386.0 L1075.0,386.4 L1076.0,386.7 L1076.9,387.1 L1077.8,387.5 L1078.8,387.8 L1079.7,388.2 L1080.7,388.5 L1081.6,388.9 L1082.5,389.2 L1083.5,389.5 L1084.4,389.8 L1085.4,390.1 L1086.4,390.3 L1087.4,390.5 L1088.3,390.7 L1089.3,390.9 L1090.3,391.1" fill="none" stroke="#0000ff" stroke-width="3.2" stroke-linejoin="round" stroke-linecap="round"/>
<rect x="711.5" y="21.2" width="496.5" height="371.0" fill="none" stroke="#3a3a3a" stroke-width="1.6"/>
<line x1="704.5" y1="392.2" x2="711.5" y2="392.2" stroke="#3a3a3a" stroke-width="1.5" />
<text x="697" y="399.2" font-size="22" text-anchor="end" fill="#1a1a1a"  stroke="#1a1a1a" stroke-width="0.3">0</text>
<line x1="704.5" y1="318.0" x2="711.5" y2="318.0" stroke="#3a3a3a" stroke-width="1.5" />
<text x="697" y="325.0" font-size="22" text-anchor="end" fill="#1a1a1a"  stroke="#1a1a1a" stroke-width="0.3">200</text>
<line x1="704.5" y1="243.79999999999998" x2="711.5" y2="243.79999999999998" stroke="#3a3a3a" stroke-width="1.5" />
<text x="697" y="250.79999999999998" font-size="22" text-anchor="end" fill="#1a1a1a"  stroke="#1a1a1a" stroke-width="0.3">400</text>
<line x1="704.5" y1="169.6" x2="711.5" y2="169.6" stroke="#3a3a3a" stroke-width="1.5" />
<text x="697" y="176.6" font-size="22" text-anchor="end" fill="#1a1a1a"  stroke="#1a1a1a" stroke-width="0.3">600</text>
<line x1="704.5" y1="95.39999999999998" x2="711.5" y2="95.39999999999998" stroke="#3a3a3a" stroke-width="1.5" />
<text x="697" y="102.39999999999998" font-size="22" text-anchor="end" fill="#1a1a1a"  stroke="#1a1a1a" stroke-width="0.3">800</text>
<line x1="704.5" y1="21.19999999999999" x2="711.5" y2="21.19999999999999" stroke="#3a3a3a" stroke-width="1.5" />
<text x="697" y="28.19999999999999" font-size="22" text-anchor="end" fill="#1a1a1a"  stroke="#1a1a1a" stroke-width="0.3">1000</text>
<line x1="707.5" y1="355.09999999999997" x2="711.5" y2="355.09999999999997" stroke="#3a3a3a" stroke-width="1.5" />
<line x1="707.5" y1="280.9" x2="711.5" y2="280.9" stroke="#3a3a3a" stroke-width="1.5" />
<line x1="707.5" y1="206.7" x2="711.5" y2="206.7" stroke="#3a3a3a" stroke-width="1.5" />
<line x1="707.5" y1="132.5" x2="711.5" y2="132.5" stroke="#3a3a3a" stroke-width="1.5" />
<line x1="707.5" y1="58.30000000000001" x2="711.5" y2="58.30000000000001" stroke="#3a3a3a" stroke-width="1.5" />
<line x1="711.5" y1="392.2" x2="711.5" y2="399.2" stroke="#3a3a3a" stroke-width="1.5" />
<text x="710.3" y="420.8" font-size="22" text-anchor="middle" fill="#1a1a1a"  stroke="#1a1a1a" stroke-width="0.3">400</text>
<line x1="794.25" y1="392.2" x2="794.25" y2="399.2" stroke="#3a3a3a" stroke-width="1.5" />
<text x="793.05" y="420.8" font-size="22" text-anchor="middle" fill="#1a1a1a"  stroke="#1a1a1a" stroke-width="0.3">500</text>
<line x1="877.0" y1="392.2" x2="877.0" y2="399.2" stroke="#3a3a3a" stroke-width="1.5" />
<text x="875.8" y="420.8" font-size="22" text-anchor="middle" fill="#1a1a1a"  stroke="#1a1a1a" stroke-width="0.3">600</text>
<line x1="959.75" y1="392.2" x2="959.75" y2="399.2" stroke="#3a3a3a" stroke-width="1.5" />
<text x="958.55" y="420.8" font-size="22" text-anchor="middle" fill="#1a1a1a"  stroke="#1a1a1a" stroke-width="0.3">700</text>
<line x1="1042.5" y1="392.2" x2="1042.5" y2="399.2" stroke="#3a3a3a" stroke-width="1.5" />
<text x="1041.3" y="420.8" font-size="22" text-anchor="middle" fill="#1a1a1a"  stroke="#1a1a1a" stroke-width="0.3">800</text>
<line x1="1125.25" y1="392.2" x2="1125.25" y2="399.2" stroke="#3a3a3a" stroke-width="1.5" />
<text x="1124.05" y="420.8" font-size="22" text-anchor="middle" fill="#1a1a1a"  stroke="#1a1a1a" stroke-width="0.3">900</text>
<line x1="1208.0" y1="392.2" x2="1208.0" y2="399.2" stroke="#3a3a3a" stroke-width="1.5" />
<text x="1206.8" y="420.8" font-size="22" text-anchor="middle" fill="#1a1a1a"  stroke="#1a1a1a" stroke-width="0.3">1000</text>
<line x1="752.875" y1="392.2" x2="752.875" y2="396.2" stroke="#3a3a3a" stroke-width="1.5" />
<line x1="835.625" y1="392.2" x2="835.625" y2="396.2" stroke="#3a3a3a" stroke-width="1.5" />
<line x1="918.375" y1="392.2" x2="918.375" y2="396.2" stroke="#3a3a3a" stroke-width="1.5" />
<line x1="1001.125" y1="392.2" x2="1001.125" y2="396.2" stroke="#3a3a3a" stroke-width="1.5" />
<line x1="1083.875" y1="392.2" x2="1083.875" y2="396.2" stroke="#3a3a3a" stroke-width="1.5" />
<line x1="1166.625" y1="392.2" x2="1166.625" y2="396.2" stroke="#3a3a3a" stroke-width="1.5" />
<text x="959" y="462" font-size="28.2" text-anchor="middle" fill="#1a1a1a"  stroke="#1a1a1a" stroke-width="0.3">Wavelength (nm)</text>
<text transform="translate(632,212.7) rotate(-90)" font-size="28.2" text-anchor="middle" fill="#1a1a1a">FL Intensity (a.u.)</text>
<text x="722" y="65.7" font-size="21.2" text-anchor="start" fill="#1a1a1a"  stroke="#1a1a1a" stroke-width="0.3">Aggregation</text>
<text x="722" y="90.7" font-size="21.2" text-anchor="start" fill="#1a1a1a"  stroke="#1a1a1a" stroke-width="0.3">-Induced Emission</text>
<text x="720" y="216.3" font-size="21.2" text-anchor="start" fill="#1a1a1a"  stroke="#1a1a1a" stroke-width="0.3">Au(0)@Au(I)</text>
<text x="720" y="241.3" font-size="21.2" text-anchor="start" fill="#1a1a1a"  stroke="#1a1a1a" stroke-width="0.3">−thiolate NCs</text>
<line x1="876" y1="130" x2="854.6318717608502" y2="107.46007117999359" stroke="#5b9bd5" stroke-width="1.6" />
<path d="M845.0,97.3 L859.3,103.0 L849.9,111.9 Z" fill="#5b9bd5"/>
<line x1="858.3" y1="278.3" x2="837.9391142318917" y2="256.8532003242594" stroke="#5b9bd5" stroke-width="1.6" />
<path d="M828.3,246.7 L842.7,252.4 L833.2,261.3 Z" fill="#5b9bd5"/>
<rect x="991.3" y="31.3" width="204.7" height="72.5" fill="#fff" stroke="#3a3a3a" stroke-width="1.4"/>
<line x1="1002" y1="45.3" x2="1041.3" y2="45.3" stroke="#000" stroke-width="2.8" />
<text x="1046" y="50.8" font-size="16" text-anchor="start" fill="#1a1a1a" letter-spacing="0.75" stroke="#1a1a1a" stroke-width="0.3">HAuCl<tspan font-size="7.5" dy="6">4</tspan></text>
<line x1="1002" y1="72.3" x2="1041.3" y2="72.3" stroke="#0000ff" stroke-width="2.8" />
<text x="1046" y="77.8" font-size="16" text-anchor="start" fill="#1a1a1a" letter-spacing="0.75" stroke="#1a1a1a" stroke-width="0.3">Au NCs</text>
<line x1="1002" y1="94.0" x2="1041.3" y2="94.0" stroke="#ff0000" stroke-width="2.8" />
<text x="1046" y="99.5" font-size="16" text-anchor="start" fill="#1a1a1a" letter-spacing="0.75" stroke="#1a1a1a" stroke-width="0.3">Au NCs-PNIPAAm</text>
</g>
<g id="panelC">
<text x="21.5" y="558.7" font-size="48.5" text-anchor="start" fill="#1a1a1a" stroke="#1a1a1a" stroke-width="0.8">c</text>
<path d="M87.0,604.6 L88.0,604.4 L89.0,604.3 L90.0,604.1 L91.0,604.0 L91.9,603.8 L92.9,603.6 L93.9,603.4 L94.9,603.2 L95.9,603.0 L96.8,602.8 L97.8,602.5 L98.8,602.3 L99.7,602.0 L100.7,601.6 L101.6,601.3 L102.6,601.0 L103.5,600.6 L104.4,600.3 L105.4,600.0 L106.3,599.6 L107.3,599.3 L108.2,598.9 L109.1,598.5 L110.1,598.2 L111.0,597.8 L111.9,597.4 L112.9,597.1 L113.8,596.7 L114.7,596.3 L115.7,595.9 L116.6,595.6 L117.5,595.2 L118.5,594.8 L119.4,594.4 L120.3,594.1 L121.2,593.7 L122.2,593.3 L123.1,592.9 L124.0,592.5 L124.9,592.1 L125.8,591.7 L126.8,591.3 L127.7,590.8 L128.6,590.4 L129.5,590.0 L130.4,589.5 L131.3,589.1 L132.2,588.7 L133.1,588.2 L134.0,587.8 L134.9,587.4 L135.8,586.9 L136.7,586.5 L137.6,586.2 L138.6,585.8 L139.5,585.4 L140.4,585.1 L141.4,584.7 L142.3,584.4 L143.3,584.0 L144.2,583.7 L145.1,583.4 L146.1,583.0 L147.0,582.7 L148.0,582.4 L148.9,582.0 L149.8,581.7 L150.8,581.3 L151.7,580.9 L152.6,580.4 L153.5,580.0 L154.3,579.5 L155.2,579.0 L156.0,578.4 L156.8,577.9 L157.6,577.3 L158.4,576.7 L159.2,576.1 L160.0,575.5 L160.8,574.9 L161.6,574.3 L162.4,573.7 L163.2,573.0 L163.9,572.4 L164.7,571.7 L165.4,571.0 L166.1,570.3 L166.8,569.6 L167.5,568.9 L168.1,568.1 L168.8,567.4 L169.5,566.6 L170.1,565.8 L170.7,565.1 L171.4,564.3 L172.0,563.5 L172.6,562.7 L173.3,562.0 L173.9,561.2 L174.5,560.4 L175.1,559.6 L175.7,558.8 L176.3,558.0 L176.9,557.2 L177.5,556.3 L178.0,555.5 L178.6,554.7 L179.1,553.8 L179.7,553.0 L180.3,552.2 L180.8,551.3 L181.4,550.5 L181.9,549.7 L182.5,548.8 L183.1,548.0 L183.6,547.2 L184.2,546.4 L184.8,545.6 L185.4,544.7 L186.0,543.9 L186.6,543.1 L187.2,542.3 L187.8,541.6 L188.4,540.8 L189.1,540.0 L189.7,539.2 L190.3,538.4 L191.0,537.7 L191.6,536.9 L192.3,536.1 L192.9,535.4 L193.6,534.6 L194.2,533.9 L194.9,533.1 L195.6,532.4 L196.3,531.7 L197.0,531.0 L197.8,530.3 L198.5,529.6 L199.2,529.0 L200.0,528.3 L200.7,527.6 L201.4,527.0 L202.2,526.4 L202.9,525.9 L203.7,525.4 L204.4,525.1 L205.2,524.8 L206.0,524.7 L206.8,524.8 L207.6,525.0 L208.4,525.3 L209.2,525.7 L210.0,526.2 L210.8,526.7 L211.6,527.3 L212.4,527.9 L213.1,528.5 L213.9,529.1 L214.6,529.8 L215.3,530.5 L216.0,531.2 L216.7,531.9 L217.3,532.7 L218.0,533.5 L218.6,534.2 L219.2,535.0 L219.8,535.9 L220.4,536.7 L220.9,537.5 L221.5,538.3 L222.1,539.1 L222.7,539.9 L223.3,540.7 L223.8,541.6 L224.4,542.4 L224.9,543.3 L225.4,544.1 L225.9,545.0 L226.4,545.9 L226.8,546.8 L227.3,547.7 L227.7,548.6 L228.1,549.5 L228.5,550.4 L228.9,551.3 L229.3,552.2 L229.7,553.1 L230.2,554.0 L230.6,555.0 L231.0,555.9 L231.4,556.8 L231.8,557.7 L232.2,558.6 L232.6,559.5 L233.0,560.5 L233.4,561.4 L233.9,562.3 L234.3,563.2 L234.7,564.1 L235.2,565.0 L235.6,565.9 L236.0,566.8 L236.5,567.7 L236.9,568.6 L237.4,569.5 L237.8,570.4 L238.3,571.3 L238.7,572.2 L239.2,573.1 L239.6,574.0 L240.1,574.9 L240.5,575.8 L241.0,576.6 L241.4,577.5 L241.9,578.4 L242.4,579.3 L242.9,580.2 L243.4,581.0 L244.0,581.8 L244.6,582.6 L245.2,583.4 L245.8,584.2 L246.5,584.9 L247.1,585.6 L247.8,586.4 L248.5,587.1 L249.2,587.8 L249.9,588.5 L250.7,589.2 L251.4,589.9 L252.1,590.6 L252.8,591.3 L253.6,592.0 L254.3,592.6 L255.1,593.3 L255.8,593.9 L256.6,594.5 L257.4,595.1 L258.3,595.6 L259.1,596.1 L260.0,596.7 L260.8,597.2 L261.7,597.7 L262.6,598.2 L263.4,598.7 L264.3,599.1 L265.2,599.6 L266.1,600.1 L266.9,600.6 L267.8,601.1 L268.7,601.6 L269.6,602.0 L270.5,602.5 L271.4,602.9 L272.3,603.3 L273.2,603.6 L274.1,603.9 L275.1,604.1 L276.0,604.3 L277.0,604.5 L278.0,604.6 L279.0,604.6 L280.0,604.7 L281.0,604.7 L282.0,604.7 L283.0,604.8 L284.0,604.8 L285.0,604.8 L286.0,604.8 L287.0,604.8 L288.0,604.8 L289.0,604.9 L290.0,604.9 L291.0,604.9 L292.0,604.9 L293.0,604.9 L294.0,604.9 L295.0,604.8 L296.0,604.8 L297.0,604.7 L298.0,604.6 L299.0,604.5 L299.9,604.3 L300.9,604.2 L301.9,604.0 L302.9,603.9 L303.9,603.7 L304.9,603.5 L305.9,603.4 L306.9,603.2 L307.9,603.0 L308.9,602.9 L309.8,602.7 L310.8,602.5 L311.8,602.3 L312.8,602.2 L313.8,602.0 L314.8,601.8 L315.7,601.6 L316.7,601.4 L317.7,601.1 L318.7,600.9 L319.6,600.6 L320.6,600.4 L321.6,600.1 L322.5,599.9 L323.5,599.6 L324.5,599.3 L325.4,599.1 L326.4,598.8 L327.4,598.5 L328.3,598.2 L329.3,598.0 L330.2,597.7 L331.2,597.3 L332.1,597.0 L333.0,596.6 L333.9,596.2 L334.7,595.7 L335.6,595.2 L336.4,594.6 L337.1,594.0 L337.9,593.4 L338.6,592.7 L339.3,592.0 L340.0,591.3 L340.8,590.6 L341.5,589.9 L342.2,589.2 L342.9,588.5 L343.6,587.8 L344.3,587.1 L345.0,586.4 L345.7,585.6 L346.3,584.9 L347.0,584.1 L347.6,583.4 L348.2,582.6 L348.9,581.8 L349.5,581.0 L350.1,580.2 L350.7,579.4 L351.2,578.6 L351.8,577.8 L352.4,576.9 L353.0,576.1 L353.6,575.3 L354.2,574.5 L354.7,573.7 L355.3,572.8 L355.9,572.0 L356.4,571.2 L357.0,570.3 L357.5,569.5 L358.0,568.6 L358.5,567.8 L359.0,566.9 L359.4,566.0 L359.9,565.1 L360.3,564.2 L360.8,563.3 L361.2,562.4 L361.7,561.5 L362.1,560.6 L362.6,559.7 L363.0,558.8 L363.5,557.9 L363.9,557.0 L364.4,556.1 L364.8,555.2 L365.3,554.3 L365.7,553.4 L366.2,552.5 L366.6,551.6 L367.1,550.8 L367.5,549.9 L368.0,549.0 L368.4,548.1 L368.9,547.2 L369.3,546.3 L369.8,545.4 L370.2,544.5 L370.7,543.6 L371.1,542.7 L371.6,541.8 L372.0,540.9 L372.5,540.0 L372.9,539.1 L373.4,538.2 L373.9,537.3 L374.3,536.5 L374.8,535.6 L375.3,534.7 L375.8,533.8 L376.3,533.0 L376.8,532.1 L377.3,531.2 L377.8,530.4 L378.3,529.5 L378.8,528.6 L379.4,527.8 L379.9,526.9 L380.4,526.0 L380.9,525.2 L381.4,524.3 L381.9,523.5 L382.5,522.6 L383.0,521.8 L383.6,521.0 L384.2,520.2 L384.8,519.5 L385.5,518.7 L386.2,518.0 L386.9,517.4 L387.6,516.7 L388.4,516.2 L389.1,515.7 L389.9,515.3 L390.7,515.1 L391.5,514.9 L392.3,514.9 L393.1,515.1 L393.9,515.4 L394.7,515.8 L395.5,516.2 L396.3,516.8 L397.0,517.4 L397.8,518.1 L398.5,518.7 L399.2,519.4 L399.9,520.2 L400.5,520.9 L401.2,521.6 L401.9,522.4 L402.5,523.1 L403.2,523.9 L403.8,524.7 L404.4,525.5 L405.0,526.3 L405.5,527.1 L406.1,527.9 L406.6,528.8 L407.0,529.7 L407.5,530.6 L407.9,531.5 L408.3,532.4 L408.7,533.3 L409.2,534.2 L409.6,535.1 L410.0,536.0 L410.4,536.9 L410.8,537.9 L411.2,538.8 L411.6,539.7 L412.0,540.6 L412.4,541.5 L412.9,542.4 L413.3,543.3 L413.7,544.3 L414.1,545.2 L414.5,546.1 L414.9,547.0 L415.3,547.9 L415.7,548.9 L416.1,549.8 L416.5,550.7 L416.9,551.6 L417.2,552.6 L417.6,553.5 L418.0,554.4 L418.4,555.3 L418.8,556.3 L419.2,557.2 L419.6,558.1 L420.0,559.0 L420.3,560.0 L420.7,560.9 L421.1,561.8 L421.5,562.7 L421.9,563.7 L422.3,564.6 L422.7,565.5 L423.1,566.4 L423.5,567.4 L423.8,568.3 L424.3,569.2 L424.7,570.1 L425.1,571.0 L425.5,571.9 L426.0,572.8 L426.4,573.7 L426.9,574.6 L427.4,575.5 L427.8,576.4 L428.3,577.2 L428.8,578.1 L429.3,579.0 L429.8,579.9 L430.2,580.8 L430.7,581.6 L431.2,582.5 L431.7,583.4 L432.2,584.3 L432.7,585.1 L433.2,586.0 L433.7,586.9 L434.2,587.7 L434.8,588.5 L435.3,589.3 L435.9,590.1 L436.6,590.9 L437.2,591.6 L437.9,592.3 L438.6,593.0 L439.4,593.7 L440.1,594.4 L440.8,595.1 L441.6,595.7 L442.4,596.4 L443.1,597.0 L443.9,597.6 L444.7,598.2 L445.5,598.7 L446.4,599.2 L447.3,599.7 L448.2,600.1 L449.1,600.5 L450.0,600.8 L450.9,601.2 L451.9,601.5 L452.8,601.8 L453.8,602.2 L454.7,602.5 L455.7,602.8 L456.6,603.1 L457.6,603.4 L458.5,603.7 L459.5,604.0 L460.4,604.3 L461.4,604.6 L462.4,604.8 L463.3,605.1 L464.3,605.3 L465.3,605.5 L466.3,605.7 L467.3,605.9 L468.2,606.1 L469.2,606.3 L470.2,606.4 L471.2,606.6 L472.2,606.8 L473.2,607.0 L474.2,607.2 L475.1,607.3 L476.1,607.5 L477.1,607.7 L478.1,607.9 L479.1,608.0 L480.1,608.2 L481.1,608.3 L482.1,608.5 L483.1,608.6 L484.1,608.7 L485.1,608.8 L486.1,608.9 L487.1,609.0 L488.1,609.0 L489.1,609.1 L490.1,609.2 L491.1,609.2 L492.1,609.3 L493.1,609.4 L494.1,609.4 L495.1,609.5 L496.1,609.6 L497.1,609.6 L498.1,609.7 L499.1,609.7 L500.1,609.8 L501.1,609.9 L502.1,609.9 L503.1,610.0 L504.1,610.1 L505.1,610.1 L506.1,610.2 L507.1,610.2 L508.1,610.3 L509.1,610.3 L510.1,610.3 L511.1,610.4 L512.1,610.4 L513.1,610.4 L514.1,610.4 L515.1,610.4 L516.1,610.4 L517.1,610.4 L518.1,610.4 L519.1,610.5 L520.1,610.5 L521.1,610.5 L522.1,610.5 L523.1,610.5 L524.1,610.5 L525.1,610.5 L526.1,610.5 L527.1,610.5 L528.1,610.5 L529.1,610.5 L530.1,610.5 L531.1,610.5 L532.1,610.5 L533.1,610.5 L534.1,610.5 L535.2,610.5 L536.2,610.5 L537.2,610.5 L538.2,610.6 L539.2,610.6 L540.2,610.6 L541.2,610.6 L542.2,610.6 L543.2,610.6 L544.2,610.6 L545.2,610.6 L546.2,610.6 L547.2,610.6 L548.2,610.6 L549.2,610.6 L550.2,610.6 L551.2,610.6 L552.2,610.6 L553.2,610.6 L554.2,610.6 L555.2,610.6 L556.2,610.6 L557.2,610.7 L558.2,610.7 L559.2,610.7 L560.2,610.7 L561.2,610.7 L562.2,610.7 L563.2,610.7 L564.2,610.7 L565.2,610.7 L566.2,610.7 L567.2,610.7 L568.2,610.7 L569.3,610.7 L570.3,610.7 L571.3,610.7 L572.3,610.7 L573.3,610.7 L574.3,610.7 L575.3,610.7 L576.3,610.8 L577.3,610.8 L578.3,610.8 L579.3,610.8 L580.3,610.8 L581.3,610.8 L582.3,610.8 L583.3,610.8 L584.3,610.8 L585.3,610.8" fill="none" stroke="#000" stroke-width="3.6" stroke-linejoin="round" stroke-linecap="round"/>
<path d="M87.0,729.2 L88.0,729.1 L89.0,729.1 L90.0,729.0 L91.0,728.9 L92.0,728.8 L93.0,728.8 L94.0,728.7 L95.0,728.6 L96.0,728.6 L97.0,728.5 L98.0,728.4 L99.0,728.3 L100.0,728.2 L101.0,728.2 L102.0,728.1 L103.0,728.0 L104.0,727.9 L105.0,727.8 L106.0,727.6 L107.0,727.5 L108.0,727.4 L109.0,727.3 L110.0,727.2 L111.0,727.1 L112.0,727.0 L112.9,726.9 L113.9,726.8 L114.9,726.7 L115.9,726.6 L116.9,726.6 L117.9,726.5 L118.9,726.4 L119.9,726.4 L120.9,726.3 L121.9,726.3 L122.9,726.2 L123.9,726.2 L124.9,726.1 L125.9,726.1 L126.9,726.0 L127.9,726.0 L129.0,725.9 L130.0,725.9 L131.0,725.8 L132.0,725.7 L133.0,725.7 L134.0,725.6 L135.0,725.5 L135.9,725.5 L136.9,725.4 L137.9,725.3 L138.9,725.2 L139.9,725.1 L140.9,725.0 L141.9,724.9 L142.9,724.8 L143.9,724.6 L144.9,724.5 L145.9,724.4 L146.9,724.3 L147.9,724.2 L148.9,724.1 L149.9,723.9 L150.9,723.7 L151.8,723.6 L152.8,723.3 L153.8,723.1 L154.7,722.8 L155.7,722.5 L156.6,722.2 L157.5,721.8 L158.5,721.5 L159.4,721.1 L160.3,720.7 L161.2,720.3 L162.2,719.9 L163.1,719.5 L163.9,719.0 L164.8,718.6 L165.7,718.1 L166.5,717.6 L167.4,717.0 L168.2,716.5 L169.0,715.9 L169.8,715.3 L170.6,714.7 L171.4,714.1 L172.2,713.5 L173.0,712.9 L173.8,712.3 L174.6,711.6 L175.4,711.0 L176.1,710.4 L176.9,709.7 L177.6,709.0 L178.3,708.4 L179.1,707.7 L179.8,706.9 L180.4,706.2 L181.1,705.5 L181.8,704.8 L182.5,704.0 L183.2,703.3 L183.8,702.5 L184.5,701.8 L185.1,701.0 L185.8,700.3 L186.4,699.5 L187.0,698.7 L187.6,697.9 L188.2,697.1 L188.7,696.2 L189.2,695.4 L189.8,694.5 L190.3,693.7 L190.8,692.8 L191.3,691.9 L191.8,691.1 L192.3,690.2 L192.8,689.3 L193.3,688.5 L193.8,687.6 L194.3,686.7 L194.8,685.9 L195.3,685.0 L195.8,684.1 L196.3,683.3 L196.8,682.4 L197.3,681.5 L197.8,680.7 L198.3,679.8 L198.8,678.9 L199.3,678.1 L199.8,677.2 L200.4,676.3 L200.9,675.5 L201.4,674.6 L201.9,673.8 L202.4,672.9 L202.9,672.0 L203.4,671.2 L204.0,670.3 L204.5,669.5 L205.0,668.6 L205.6,667.8 L206.2,667.0 L206.7,666.2 L207.3,665.4 L207.9,664.6 L208.5,663.8 L209.1,663.0 L209.8,662.2 L210.4,661.4 L211.0,660.6 L211.7,659.9 L212.4,659.1 L213.0,658.4 L213.7,657.7 L214.5,657.1 L215.2,656.4 L216.0,655.8 L216.8,655.3 L217.6,654.8 L218.4,654.3 L219.2,654.0 L220.0,653.7 L220.8,653.6 L221.6,653.6 L222.4,653.8 L223.1,654.1 L223.9,654.5 L224.7,655.0 L225.4,655.5 L226.2,656.1 L226.9,656.8 L227.6,657.5 L228.3,658.2 L229.0,658.9 L229.7,659.6 L230.3,660.4 L230.9,661.2 L231.5,661.9 L232.1,662.8 L232.7,663.6 L233.3,664.4 L233.8,665.2 L234.4,666.1 L234.9,666.9 L235.5,667.7 L236.1,668.6 L236.6,669.4 L237.2,670.2 L237.7,671.1 L238.2,671.9 L238.8,672.8 L239.3,673.6 L239.8,674.5 L240.3,675.3 L240.8,676.2 L241.2,677.1 L241.7,678.0 L242.2,678.9 L242.6,679.8 L243.1,680.7 L243.5,681.6 L244.0,682.5 L244.4,683.4 L244.9,684.3 L245.3,685.2 L245.8,686.1 L246.2,687.0 L246.6,687.9 L247.1,688.7 L247.5,689.6 L248.0,690.5 L248.4,691.4 L248.9,692.3 L249.4,693.2 L249.8,694.1 L250.3,695.0 L250.8,695.8 L251.3,696.7 L251.8,697.6 L252.3,698.5 L252.8,699.3 L253.3,700.2 L253.8,701.0 L254.3,701.9 L254.8,702.8 L255.4,703.6 L255.9,704.5 L256.4,705.4 L256.9,706.2 L257.4,707.1 L258.0,707.9 L258.5,708.7 L259.1,709.6 L259.7,710.3 L260.3,711.1 L260.9,711.9 L261.6,712.6 L262.3,713.3 L263.0,714.0 L263.8,714.6 L264.5,715.3 L265.3,715.9 L266.1,716.6 L266.8,717.2 L267.6,717.9 L268.4,718.5 L269.2,719.1 L270.0,719.7 L270.8,720.2 L271.6,720.8 L272.5,721.3 L273.3,721.7 L274.2,722.1 L275.1,722.5 L276.1,722.9 L277.0,723.2 L277.9,723.6 L278.9,723.9 L279.8,724.2 L280.8,724.5 L281.7,724.8 L282.7,725.1 L283.6,725.5 L284.6,725.8 L285.6,726.1 L286.5,726.3 L287.5,726.6 L288.4,726.8 L289.4,727.1 L290.4,727.2 L291.4,727.4 L292.3,727.5 L293.3,727.6 L294.3,727.6 L295.3,727.7 L296.3,727.7 L297.3,727.8 L298.3,727.8 L299.3,727.8 L300.3,727.8 L301.3,727.9 L302.3,727.9 L303.3,727.9 L304.3,727.9 L305.3,727.9 L306.3,728.0 L307.3,728.0 L308.3,728.0 L309.3,728.0 L310.4,728.1 L311.4,728.1 L312.4,728.1 L313.4,728.1 L314.4,728.1 L315.4,728.1 L316.4,728.1 L317.4,728.1 L318.4,728.0 L319.4,728.0 L320.4,727.9 L321.4,727.9 L322.4,727.8 L323.4,727.7 L324.4,727.6 L325.3,727.5 L326.3,727.4 L327.3,727.2 L328.3,727.0 L329.3,726.8 L330.3,726.6 L331.2,726.4 L332.2,726.1 L333.1,725.8 L334.1,725.5 L335.0,725.2 L335.9,724.8 L336.8,724.4 L337.7,723.9 L338.6,723.5 L339.5,723.0 L340.3,722.5 L341.2,722.0 L342.1,721.5 L342.9,721.0 L343.8,720.5 L344.6,719.9 L345.5,719.4 L346.3,718.8 L347.1,718.3 L347.9,717.7 L348.7,717.0 L349.5,716.4 L350.2,715.8 L351.0,715.1 L351.7,714.4 L352.5,713.8 L353.2,713.1 L353.9,712.4 L354.7,711.7 L355.4,711.0 L356.1,710.3 L356.8,709.6 L357.5,708.9 L358.2,708.2 L358.9,707.5 L359.5,706.7 L360.1,705.9 L360.7,705.1 L361.2,704.3 L361.8,703.4 L362.3,702.6 L362.8,701.7 L363.3,700.9 L363.8,700.0 L364.3,699.1 L364.8,698.3 L365.4,697.4 L365.9,696.6 L366.4,695.7 L366.9,694.8 L367.4,694.0 L367.9,693.1 L368.4,692.2 L368.9,691.4 L369.4,690.5 L369.8,689.6 L370.3,688.7 L370.8,687.8 L371.3,686.9 L371.7,686.1 L372.2,685.2 L372.6,684.3 L373.1,683.4 L373.5,682.5 L374.0,681.6 L374.4,680.7 L374.9,679.8 L375.3,678.9 L375.7,678.0 L376.2,677.1 L376.6,676.2 L377.1,675.3 L377.5,674.4 L377.9,673.5 L378.3,672.6 L378.7,671.7 L379.1,670.7 L379.5,669.8 L379.9,668.9 L380.3,668.0 L380.7,667.0 L381.1,666.1 L381.5,665.2 L381.9,664.3 L382.3,663.4 L382.7,662.4 L383.1,661.5 L383.4,660.6 L383.8,659.7 L384.2,658.7 L384.6,657.8 L385.0,656.9 L385.4,656.0 L385.9,655.1 L386.3,654.2 L386.7,653.3 L387.2,652.4 L387.7,651.5 L388.2,650.6 L388.6,649.8 L389.1,648.9 L389.6,648.0 L390.1,647.1 L390.6,646.3 L391.1,645.4 L391.6,644.5 L392.1,643.7 L392.7,642.8 L393.2,642.0 L393.8,641.2 L394.4,640.4 L395.0,639.6 L395.7,638.9 L396.3,638.2 L397.0,637.6 L397.8,636.9 L398.5,636.4 L399.3,635.9 L400.0,635.5 L400.8,635.3 L401.6,635.2 L402.3,635.2 L403.1,635.4 L403.9,635.7 L404.7,636.1 L405.4,636.6 L406.2,637.2 L407.0,637.7 L407.7,638.4 L408.5,639.0 L409.3,639.6 L410.0,640.3 L410.7,641.0 L411.4,641.7 L412.0,642.4 L412.6,643.2 L413.2,644.0 L413.7,644.8 L414.2,645.7 L414.7,646.5 L415.1,647.4 L415.5,648.3 L416.0,649.2 L416.4,650.2 L416.8,651.1 L417.2,652.0 L417.6,652.9 L418.0,653.8 L418.4,654.7 L418.8,655.7 L419.2,656.6 L419.6,657.5 L420.0,658.4 L420.4,659.3 L420.8,660.2 L421.2,661.2 L421.6,662.1 L421.9,663.0 L422.3,664.0 L422.7,664.9 L423.0,665.8 L423.4,666.8 L423.8,667.7 L424.1,668.6 L424.5,669.6 L424.8,670.5 L425.2,671.4 L425.5,672.4 L425.9,673.3 L426.3,674.3 L426.6,675.2 L427.0,676.1 L427.3,677.1 L427.7,678.0 L428.1,678.9 L428.4,679.9 L428.8,680.8 L429.1,681.7 L429.5,682.7 L429.8,683.6 L430.2,684.5 L430.6,685.5 L431.0,686.4 L431.3,687.3 L431.7,688.3 L432.1,689.2 L432.5,690.1 L432.9,691.0 L433.3,691.9 L433.7,692.8 L434.2,693.8 L434.6,694.7 L435.0,695.6 L435.4,696.5 L435.8,697.4 L436.2,698.3 L436.7,699.2 L437.1,700.1 L437.5,701.0 L437.9,702.0 L438.3,702.9 L438.7,703.8 L439.2,704.7 L439.6,705.6 L440.0,706.5 L440.5,707.4 L441.0,708.2 L441.5,709.1 L442.0,709.9 L442.5,710.8 L443.1,711.6 L443.7,712.3 L444.4,713.1 L445.0,713.9 L445.7,714.6 L446.3,715.4 L447.0,716.1 L447.7,716.8 L448.4,717.6 L449.1,718.3 L449.8,719.0 L450.5,719.6 L451.3,720.3 L452.0,720.9 L452.8,721.4 L453.7,722.0 L454.5,722.4 L455.4,722.9 L456.3,723.3 L457.2,723.8 L458.1,724.2 L459.0,724.6 L459.9,725.0 L460.9,725.3 L461.8,725.7 L462.7,726.1 L463.7,726.5 L464.6,726.8 L465.5,727.1 L466.5,727.4 L467.4,727.7 L468.4,727.9 L469.4,728.1 L470.4,728.3 L471.3,728.5 L472.3,728.7 L473.3,728.8 L474.3,729.0 L475.3,729.2 L476.3,729.3 L477.3,729.5 L478.3,729.7 L479.3,729.8 L480.2,730.0 L481.2,730.2 L482.2,730.3 L483.2,730.5 L484.2,730.6 L485.2,730.8 L486.2,730.9 L487.2,731.0 L488.2,731.2 L489.2,731.3 L490.2,731.3 L491.2,731.4 L492.2,731.5 L493.2,731.5 L494.2,731.6 L495.2,731.6 L496.2,731.6 L497.2,731.7 L498.2,731.7 L499.2,731.7 L500.2,731.8 L501.2,731.8 L502.2,731.8 L503.2,731.9 L504.2,731.9 L505.2,731.9 L506.2,732.0 L507.2,732.0 L508.2,732.0 L509.2,732.1 L510.2,732.1 L511.2,732.1 L512.2,732.2 L513.2,732.2 L514.2,732.2 L515.2,732.3 L516.2,732.3 L517.2,732.3 L518.2,732.4 L519.2,732.4 L520.2,732.4 L521.2,732.5 L522.2,732.5 L523.2,732.5 L524.2,732.6 L525.2,732.6 L526.2,732.6 L527.2,732.7 L528.2,732.7 L529.2,732.7 L530.2,732.8 L531.2,732.8 L532.2,732.8 L533.2,732.9 L534.2,732.9 L535.2,732.9 L536.2,733.0 L537.2,733.0 L538.2,733.0 L539.2,733.1 L540.2,733.1 L541.2,733.1 L542.2,733.2 L543.2,733.2 L544.2,733.2 L545.2,733.3 L546.2,733.3 L547.2,733.3 L548.2,733.4 L549.2,733.4 L550.2,733.4 L551.3,733.5 L552.3,733.5 L553.3,733.5 L554.3,733.6 L555.3,733.6 L556.3,733.6 L557.3,733.7 L558.3,733.7 L559.3,733.7 L560.3,733.7 L561.3,733.7 L562.3,733.7 L563.3,733.7 L564.3,733.6 L565.3,733.6 L566.3,733.6 L567.3,733.5 L568.3,733.5 L569.3,733.4 L570.3,733.4 L571.3,733.4 L572.3,733.3 L573.3,733.3 L574.3,733.2 L575.3,733.2 L576.3,733.2 L577.3,733.1 L578.3,733.1 L579.3,733.0 L580.3,733.0 L581.3,733.0 L582.3,732.9 L583.3,732.9 L584.3,732.8 L585.3,732.8" fill="none" stroke="#0000ff" stroke-width="3.6" stroke-linejoin="round" stroke-linecap="round"/>
<path d="M87.0,851.2 L88.0,851.1 L89.0,850.9 L90.0,850.8 L91.0,850.7 L92.0,850.5 L93.0,850.4 L94.0,850.3 L95.0,850.2 L95.9,850.1 L96.9,849.9 L97.9,849.8 L98.9,849.8 L99.9,849.7 L100.9,849.6 L101.9,849.6 L102.9,849.5 L103.9,849.5 L104.9,849.5 L105.9,849.4 L106.9,849.4 L107.9,849.4 L108.9,849.4 L109.9,849.3 L110.9,849.3 L111.9,849.3 L112.9,849.3 L114.0,849.3 L115.0,849.3 L116.0,849.3 L117.0,849.3 L118.0,849.3 L119.0,849.4 L120.0,849.4 L121.0,849.4 L122.0,849.5 L123.0,849.5 L124.0,849.6 L125.0,849.6 L126.0,849.6 L127.0,849.7 L128.0,849.7 L129.0,849.8 L130.0,849.8 L131.0,849.9 L132.0,849.9 L133.0,849.9 L134.0,850.0 L135.0,850.0 L136.0,849.9 L137.0,849.9 L138.0,849.8 L138.9,849.7 L139.9,849.6 L140.9,849.5 L141.9,849.3 L142.9,849.1 L143.9,849.0 L144.9,848.8 L145.9,848.6 L146.8,848.4 L147.8,848.2 L148.8,848.0 L149.8,847.8 L150.8,847.6 L151.7,847.4 L152.7,847.1 L153.7,846.9 L154.6,846.6 L155.6,846.3 L156.5,845.9 L157.4,845.6 L158.4,845.2 L159.3,844.9 L160.3,844.5 L161.2,844.2 L162.1,843.8 L163.0,843.4 L164.0,843.0 L164.9,842.6 L165.8,842.2 L166.7,841.7 L167.6,841.3 L168.5,840.8 L169.3,840.4 L170.2,839.9 L171.1,839.4 L172.0,838.9 L172.8,838.4 L173.7,837.9 L174.6,837.4 L175.4,836.9 L176.2,836.3 L177.0,835.7 L177.8,835.1 L178.6,834.5 L179.3,833.8 L180.1,833.2 L180.8,832.5 L181.5,831.8 L182.2,831.1 L182.9,830.3 L183.6,829.6 L184.3,828.9 L185.0,828.2 L185.6,827.4 L186.3,826.7 L187.0,825.9 L187.6,825.2 L188.2,824.4 L188.8,823.6 L189.5,822.8 L190.0,822.0 L190.6,821.2 L191.2,820.4 L191.8,819.6 L192.4,818.7 L193.0,817.9 L193.5,817.1 L194.1,816.3 L194.7,815.5 L195.3,814.7 L195.9,813.9 L196.5,813.1 L197.1,812.3 L197.7,811.5 L198.3,810.7 L198.9,809.9 L199.6,809.1 L200.2,808.3 L200.8,807.5 L201.5,806.8 L202.1,806.0 L202.7,805.2 L203.4,804.5 L204.0,803.7 L204.7,802.9 L205.3,802.2 L206.0,801.4 L206.6,800.6 L207.2,799.8 L207.9,799.1 L208.5,798.3 L209.2,797.5 L209.8,796.8 L210.4,796.0 L211.1,795.2 L211.7,794.4 L212.4,793.7 L213.0,792.9 L213.6,792.1 L214.3,791.4 L214.9,790.6 L215.6,789.9 L216.3,789.1 L216.9,788.4 L217.6,787.7 L218.4,787.0 L219.1,786.3 L219.8,785.6 L220.6,785.0 L221.4,784.4 L222.1,783.7 L222.9,783.1 L223.7,782.6 L224.6,782.0 L225.4,781.4 L226.2,780.9 L227.1,780.4 L228.0,779.9 L228.9,779.5 L229.7,779.0 L230.6,778.6 L231.5,778.3 L232.4,778.0 L233.3,777.8 L234.2,777.7 L235.1,777.6 L235.9,777.7 L236.8,777.9 L237.7,778.2 L238.5,778.6 L239.4,779.0 L240.2,779.5 L241.0,780.1 L241.9,780.6 L242.7,781.2 L243.5,781.7 L244.3,782.3 L245.1,783.0 L245.8,783.6 L246.6,784.3 L247.3,784.9 L248.0,785.6 L248.7,786.4 L249.4,787.1 L250.1,787.8 L250.8,788.5 L251.4,789.3 L252.1,790.0 L252.8,790.8 L253.4,791.5 L254.1,792.3 L254.7,793.1 L255.4,793.8 L256.0,794.6 L256.6,795.4 L257.2,796.2 L257.7,797.0 L258.3,797.9 L258.9,798.7 L259.4,799.5 L260.0,800.3 L260.6,801.2 L261.1,802.0 L261.7,802.9 L262.2,803.7 L262.8,804.5 L263.3,805.4 L263.9,806.2 L264.4,807.0 L265.0,807.9 L265.5,808.7 L266.1,809.5 L266.7,810.4 L267.2,811.2 L267.8,812.0 L268.3,812.9 L268.9,813.7 L269.5,814.5 L270.0,815.4 L270.6,816.2 L271.1,817.0 L271.7,817.8 L272.3,818.7 L272.8,819.5 L273.4,820.3 L274.0,821.1 L274.5,822.0 L275.1,822.8 L275.8,823.6 L276.4,824.3 L277.0,825.1 L277.7,825.8 L278.4,826.6 L279.0,827.3 L279.7,828.0 L280.4,828.8 L281.1,829.5 L281.8,830.2 L282.5,830.9 L283.3,831.6 L284.0,832.3 L284.7,832.9 L285.5,833.6 L286.2,834.2 L287.0,834.9 L287.8,835.5 L288.6,836.1 L289.4,836.6 L290.2,837.2 L291.1,837.8 L291.9,838.3 L292.7,838.9 L293.6,839.4 L294.4,839.9 L295.3,840.4 L296.2,840.9 L297.0,841.4 L297.9,841.8 L298.8,842.2 L299.8,842.5 L300.7,842.8 L301.6,843.1 L302.6,843.3 L303.6,843.6 L304.6,843.8 L305.5,844.0 L306.5,844.2 L307.5,844.4 L308.5,844.5 L309.5,844.7 L310.5,844.9 L311.5,845.0 L312.4,845.1 L313.4,845.2 L314.4,845.3 L315.4,845.4 L316.4,845.5 L317.4,845.6 L318.4,845.6 L319.4,845.7 L320.4,845.8 L321.4,845.8 L322.4,845.8 L323.4,845.8 L324.4,845.8 L325.4,845.8 L326.4,845.8 L327.4,845.8 L328.4,845.7 L329.4,845.7 L330.4,845.6 L331.4,845.6 L332.4,845.4 L333.4,845.3 L334.4,845.2 L335.3,845.0 L336.3,844.7 L337.2,844.5 L338.2,844.2 L339.1,843.8 L340.1,843.5 L341.0,843.1 L341.9,842.8 L342.9,842.4 L343.8,842.1 L344.8,841.7 L345.7,841.3 L346.6,841.0 L347.5,840.6 L348.5,840.2 L349.4,839.8 L350.3,839.4 L351.2,839.0 L352.1,838.5 L352.9,838.1 L353.8,837.5 L354.6,837.0 L355.4,836.4 L356.1,835.8 L356.9,835.1 L357.6,834.5 L358.4,833.8 L359.1,833.1 L359.9,832.4 L360.6,831.8 L361.3,831.1 L362.1,830.4 L362.8,829.7 L363.5,829.0 L364.2,828.3 L364.9,827.6 L365.6,826.9 L366.3,826.1 L366.9,825.3 L367.5,824.6 L368.2,823.8 L368.8,823.0 L369.4,822.2 L370.0,821.4 L370.6,820.6 L371.2,819.8 L371.8,819.0 L372.4,818.2 L373.0,817.4 L373.6,816.6 L374.2,815.8 L374.8,815.0 L375.4,814.2 L376.0,813.4 L376.5,812.6 L377.1,811.7 L377.7,810.9 L378.2,810.1 L378.7,809.2 L379.3,808.4 L379.8,807.5 L380.3,806.6 L380.7,805.7 L381.2,804.9 L381.7,804.0 L382.2,803.1 L382.7,802.2 L383.2,801.4 L383.6,800.5 L384.1,799.6 L384.6,798.7 L385.1,797.8 L385.6,797.0 L386.0,796.1 L386.5,795.2 L387.0,794.3 L387.5,793.4 L388.0,792.6 L388.4,791.7 L388.9,790.8 L389.4,789.9 L389.9,789.0 L390.4,788.2 L390.9,787.3 L391.3,786.4 L391.8,785.5 L392.3,784.7 L392.8,783.8 L393.3,782.9 L393.8,782.0 L394.2,781.1 L394.7,780.3 L395.2,779.4 L395.7,778.5 L396.2,777.6 L396.7,776.8 L397.1,775.9 L397.6,775.0 L398.1,774.1 L398.6,773.3 L399.2,772.4 L399.7,771.6 L400.3,770.8 L400.8,770.0 L401.5,769.2 L402.1,768.4 L402.8,767.7 L403.5,767.0 L404.2,766.3 L404.9,765.6 L405.6,764.9 L406.3,764.2 L407.0,763.5 L407.8,762.9 L408.5,762.2 L409.3,761.6 L410.1,761.0 L410.9,760.5 L411.8,760.0 L412.6,759.6 L413.5,759.2 L414.4,759.0 L415.3,758.8 L416.2,758.7 L417.1,758.8 L418.0,758.9 L418.9,759.1 L419.8,759.4 L420.6,759.8 L421.5,760.3 L422.4,760.7 L423.2,761.2 L424.1,761.7 L424.9,762.3 L425.7,762.9 L426.5,763.5 L427.2,764.1 L428.0,764.8 L428.7,765.4 L429.4,766.2 L430.1,766.9 L430.7,767.6 L431.4,768.4 L432.0,769.1 L432.7,769.9 L433.3,770.7 L433.9,771.5 L434.6,772.2 L435.2,773.0 L435.8,773.8 L436.4,774.6 L437.0,775.4 L437.6,776.2 L438.1,777.1 L438.7,777.9 L439.2,778.8 L439.7,779.6 L440.2,780.5 L440.7,781.4 L441.2,782.2 L441.7,783.1 L442.1,784.0 L442.6,784.9 L443.1,785.7 L443.6,786.6 L444.1,787.5 L444.6,788.4 L445.1,789.2 L445.5,790.1 L446.0,791.0 L446.5,791.9 L447.0,792.8 L447.4,793.6 L447.9,794.5 L448.4,795.4 L448.8,796.3 L449.3,797.2 L449.7,798.1 L450.2,799.0 L450.7,799.9 L451.1,800.8 L451.6,801.7 L452.0,802.6 L452.5,803.5 L452.9,804.4 L453.4,805.3 L453.8,806.2 L454.3,807.0 L454.7,807.9 L455.2,808.8 L455.6,809.7 L456.1,810.6 L456.5,811.5 L457.0,812.4 L457.4,813.3 L457.9,814.2 L458.4,815.1 L458.8,816.0 L459.3,816.8 L459.8,817.7 L460.3,818.6 L460.7,819.5 L461.2,820.4 L461.7,821.2 L462.2,822.1 L462.7,823.0 L463.2,823.9 L463.6,824.8 L464.1,825.6 L464.6,826.5 L465.1,827.4 L465.6,828.3 L466.1,829.1 L466.6,830.0 L467.1,830.8 L467.7,831.6 L468.3,832.4 L468.9,833.2 L469.5,834.0 L470.2,834.7 L470.9,835.4 L471.6,836.1 L472.3,836.8 L473.0,837.5 L473.7,838.2 L474.5,838.9 L475.2,839.6 L476.0,840.2 L476.7,840.9 L477.5,841.5 L478.2,842.1 L479.0,842.7 L479.8,843.3 L480.7,843.8 L481.5,844.3 L482.4,844.7 L483.3,845.0 L484.2,845.4 L485.2,845.7 L486.1,846.0 L487.1,846.3 L488.1,846.5 L489.0,846.8 L490.0,847.1 L491.0,847.4 L491.9,847.6 L492.9,847.9 L493.9,848.1 L494.8,848.4 L495.8,848.7 L496.8,848.9 L497.7,849.1 L498.7,849.3 L499.7,849.6 L500.7,849.7 L501.7,849.9 L502.6,850.1 L503.6,850.3 L504.6,850.4 L505.6,850.6 L506.6,850.7 L507.6,850.9 L508.6,851.0 L509.6,851.2 L510.6,851.3 L511.6,851.5 L512.5,851.6 L513.5,851.8 L514.5,851.9 L515.5,852.1 L516.5,852.2 L517.5,852.4 L518.5,852.5 L519.5,852.6 L520.5,852.7 L521.5,852.8 L522.5,853.0 L523.5,853.1 L524.5,853.2 L525.5,853.3 L526.5,853.4 L527.5,853.5 L528.5,853.6 L529.5,853.7 L530.5,853.8 L531.4,853.9 L532.4,854.0 L533.4,854.1 L534.4,854.2 L535.4,854.2 L536.4,854.4 L537.4,854.5 L538.4,854.6 L539.4,854.7 L540.4,854.8 L541.4,854.9 L542.4,855.0 L543.4,855.1 L544.4,855.3 L545.4,855.4 L546.4,855.5 L547.4,855.7 L548.4,855.8 L549.4,855.9 L550.4,856.1 L551.4,856.2 L552.3,856.3 L553.3,856.4 L554.3,856.6 L555.3,856.7 L556.3,856.8 L557.3,856.9 L558.3,857.0 L559.3,857.1 L560.3,857.1 L561.3,857.1 L562.3,857.2 L563.3,857.1 L564.3,857.1 L565.3,857.1 L566.3,857.0 L567.3,857.0 L568.3,856.9 L569.3,856.8 L570.3,856.8 L571.3,856.7 L572.3,856.6 L573.3,856.6 L574.3,856.5 L575.3,856.4 L576.3,856.4 L577.3,856.3 L578.3,856.3 L579.3,856.2 L580.3,856.1 L581.3,856.1 L582.3,856.0 L583.3,855.9 L584.3,855.9 L585.3,855.8" fill="none" stroke="#ff0000" stroke-width="3.6" stroke-linejoin="round" stroke-linecap="round"/>
<line x1="80.5" y1="611.3" x2="585.8" y2="611.3" stroke="#cfcfcf" stroke-width="2.2" stroke-dasharray="9,5.6"/>
<line x1="80.5" y1="733.6" x2="585.8" y2="733.6" stroke="#cfcfcf" stroke-width="2.2" stroke-dasharray="9,5.6"/>
<line x1="80.5" y1="856.3" x2="585.8" y2="856.3" stroke="#cfcfcf" stroke-width="2.2" stroke-dasharray="9,5.6"/>
<line x1="392.5" y1="515" x2="392.5" y2="870.6" stroke="#111" stroke-width="2.5" stroke-dasharray="8,6.6"/>
<line x1="401.6" y1="638.5" x2="401.6" y2="870.6" stroke="#0000ff" stroke-width="2.4" stroke-dasharray="7,7.4"/>
<line x1="416.4" y1="759.7" x2="416.4" y2="870.6" stroke="#ff0000" stroke-width="2.4" stroke-dasharray="8,6.5"/>
<rect x="87.2" y="499.7" width="498.59999999999997" height="370.90000000000003" fill="none" stroke="#3a3a3a" stroke-width="1.6"/>
<line x1="535.9399999999999" y1="499.7" x2="535.9399999999999" y2="506.2" stroke="#3a3a3a" stroke-width="1.5" />
<line x1="486.08" y1="499.7" x2="486.08" y2="506.2" stroke="#3a3a3a" stroke-width="1.5" />
<line x1="436.21999999999997" y1="499.7" x2="436.21999999999997" y2="506.2" stroke="#3a3a3a" stroke-width="1.5" />
<line x1="386.35999999999996" y1="499.7" x2="386.35999999999996" y2="506.2" stroke="#3a3a3a" stroke-width="1.5" />
<line x1="336.5" y1="499.7" x2="336.5" y2="506.2" stroke="#3a3a3a" stroke-width="1.5" />
<line x1="286.64" y1="499.7" x2="286.64" y2="506.2" stroke="#3a3a3a" stroke-width="1.5" />
<line x1="236.77999999999997" y1="499.7" x2="236.77999999999997" y2="506.2" stroke="#3a3a3a" stroke-width="1.5" />
<line x1="186.92000000000002" y1="499.7" x2="186.92000000000002" y2="506.2" stroke="#3a3a3a" stroke-width="1.5" />
<line x1="137.06" y1="499.7" x2="137.06" y2="506.2" stroke="#3a3a3a" stroke-width="1.5" />
<line x1="137.06" y1="870.6" x2="137.06" y2="877.6" stroke="#3a3a3a" stroke-width="1.5" />
<text x="137.06" y="898.5" font-size="22" text-anchor="middle" fill="#1a1a1a"  stroke="#1a1a1a" stroke-width="0.3">86</text>
<line x1="236.77999999999997" y1="870.6" x2="236.77999999999997" y2="877.6" stroke="#3a3a3a" stroke-width="1.5" />
<text x="236.77999999999997" y="898.5" font-size="22" text-anchor="middle" fill="#1a1a1a"  stroke="#1a1a1a" stroke-width="0.3">84</text>
<line x1="336.5" y1="870.6" x2="336.5" y2="877.6" stroke="#3a3a3a" stroke-width="1.5" />
<text x="336.5" y="898.5" font-size="22" text-anchor="middle" fill="#1a1a1a"  stroke="#1a1a1a" stroke-width="0.3">82</text>
<line x1="436.21999999999997" y1="870.6" x2="436.21999999999997" y2="877.6" stroke="#3a3a3a" stroke-width="1.5" />
<text x="436.21999999999997" y="898.5" font-size="22" text-anchor="middle" fill="#1a1a1a"  stroke="#1a1a1a" stroke-width="0.3">80</text>
<line x1="535.9399999999999" y1="870.6" x2="535.9399999999999" y2="877.6" stroke="#3a3a3a" stroke-width="1.5" />
<text x="535.9399999999999" y="898.5" font-size="22" text-anchor="middle" fill="#1a1a1a"  stroke="#1a1a1a" stroke-width="0.3">78</text>
<line x1="186.92000000000002" y1="870.6" x2="186.92000000000002" y2="875.1" stroke="#3a3a3a" stroke-width="1.5" />
<line x1="286.64" y1="870.6" x2="286.64" y2="875.1" stroke="#3a3a3a" stroke-width="1.5" />
<line x1="386.35999999999996" y1="870.6" x2="386.35999999999996" y2="875.1" stroke="#3a3a3a" stroke-width="1.5" />
<line x1="486.08" y1="870.6" x2="486.08" y2="875.1" stroke="#3a3a3a" stroke-width="1.5" />
<text x="336.5" y="940.4" font-size="28.2" text-anchor="middle" fill="#1a1a1a"  stroke="#1a1a1a" stroke-width="0.3">Binding Energy (eV)</text>
<text transform="translate(42.3,684.3) rotate(-90)" font-size="28.2" text-anchor="middle" fill="#1a1a1a">Intensity (cps)</text>
<text x="467.5" y="571" font-size="16.4" text-anchor="start" fill="#222" letter-spacing="1.0" stroke="#222" stroke-width="0.3">Au(I)-thiolate</text>
<text x="467.5" y="593.3" font-size="16.4" text-anchor="start" fill="#222" letter-spacing="1.1" stroke="#222" stroke-width="0.3">complexes</text>
<text x="476.2" y="716.5" font-size="16.4" text-anchor="start" fill="#0000ff" letter-spacing="1.4" stroke="#0000ff" stroke-width="0.3">Au NCs</text>
<text x="478.2" y="812.8" font-size="16.4" text-anchor="start" fill="#ff0000" letter-spacing="1.4" stroke="#ff0000" stroke-width="0.3">Au NCs</text>
<text x="478.2" y="835.3" font-size="16.4" text-anchor="start" fill="#ff0000" letter-spacing="1.6" stroke="#ff0000" stroke-width="0.3">-PNIPAAm</text>
</g>
<g id="panelD">
<text x="623.5" y="559" font-size="49.5" text-anchor="start" fill="#1a1a1a"  stroke="#1a1a1a" stroke-width="0.3">d</text>
<path d="M729.9,502.5 L730.7,503.1 L731.5,503.7 L732.3,504.3 L733.1,504.9 L734.0,505.4 L734.8,506.0 L735.6,506.6 L736.4,507.2 L737.2,507.8 L738.0,508.3 L738.9,508.9 L739.7,509.4 L740.6,510.0 L741.4,510.5 L742.3,511.0 L743.2,511.5 L744.0,511.9 L744.9,512.4 L745.8,512.9 L746.7,513.3 L747.6,513.8 L748.5,514.2 L749.4,514.7 L750.3,515.1 L751.2,515.5 L752.1,516.0 L753.0,516.4 L753.9,516.9 L754.8,517.3 L755.7,517.7 L756.6,518.1 L757.6,518.5 L758.5,518.9 L759.4,519.2 L760.4,519.6 L761.3,519.9 L762.2,520.3 L763.2,520.6 L764.1,520.9 L765.1,521.3 L766.0,521.6 L767.0,521.9 L767.9,522.3 L768.9,522.6 L769.8,522.9 L770.8,523.3 L771.7,523.6 L772.7,523.9 L773.6,524.2 L774.5,524.6 L775.5,524.9 L776.4,525.2 L777.4,525.5 L778.3,525.9 L779.3,526.2 L780.3,526.5 L781.2,526.7 L782.2,527.0 L783.1,527.3 L784.1,527.5 L785.1,527.8 L786.1,528.0 L787.0,528.3 L788.0,528.5 L789.0,528.8 L789.9,529.0 L790.9,529.3 L791.9,529.5 L792.9,529.8 L793.8,530.0 L794.8,530.3 L795.8,530.5 L796.7,530.8 L797.7,531.0 L798.7,531.3 L799.6,531.6 L800.6,531.8 L801.6,532.1 L802.5,532.4 L803.5,532.7 L804.4,533.0 L805.4,533.3 L806.4,533.6 L807.3,533.9 L808.3,534.2 L809.2,534.5 L810.2,534.8 L811.1,535.1 L812.1,535.4 L813.0,535.7 L814.0,536.0 L814.9,536.4 L815.9,536.7 L816.8,537.1 L817.7,537.4 L818.7,537.8 L819.6,538.2 L820.5,538.7 L821.4,539.1 L822.2,539.6 L823.1,540.1 L823.9,540.7 L824.7,541.3 L825.4,541.9 L826.2,542.5 L826.9,543.2 L827.6,543.9 L828.3,544.6 L829.0,545.4 L829.6,546.1 L830.3,546.9 L831.0,547.6 L831.6,548.4 L832.3,549.1 L832.9,549.9 L833.6,550.6 L834.2,551.4 L834.8,552.2 L835.4,553.0 L836.0,553.8 L836.6,554.6 L837.2,555.4 L837.8,556.2 L838.4,557.0 L839.0,557.8 L839.6,558.6 L840.2,559.4 L840.8,560.2 L841.4,561.0 L842.0,561.8 L842.6,562.6 L843.2,563.4 L843.9,564.2 L844.5,565.0 L845.2,565.7 L845.8,566.5 L846.5,567.2 L847.1,568.0 L847.8,568.7 L848.5,569.5 L849.2,570.2 L849.8,571.0 L850.5,571.7 L851.2,572.5 L851.9,573.2 L852.5,573.9 L853.2,574.7 L853.9,575.4 L854.6,576.1 L855.3,576.9 L856.0,577.6 L856.7,578.3 L857.4,579.0 L858.1,579.7 L858.8,580.5 L859.5,581.2 L860.2,581.9 L860.9,582.6 L861.6,583.3 L862.3,584.0 L863.0,584.7 L863.7,585.4 L864.5,586.1 L865.2,586.8 L866.0,587.4 L866.7,588.1 L867.5,588.7 L868.3,589.3 L869.1,589.9 L869.9,590.4 L870.7,591.0 L871.6,591.5 L872.4,592.1 L873.3,592.6 L874.1,593.2 L875.0,593.7 L875.8,594.2 L876.7,594.8 L877.5,595.3 L878.4,595.8 L879.2,596.3 L880.1,596.9 L880.9,597.4 L881.8,598.0 L882.6,598.5 L883.5,599.0 L884.3,599.6 L885.1,600.1 L885.9,600.7 L886.8,601.3 L887.6,601.9 L888.4,602.5 L889.2,603.0 L890.0,603.6 L890.8,604.2 L891.6,604.8 L892.4,605.4 L893.2,606.0 L894.0,606.6 L894.8,607.2 L895.6,607.8 L896.4,608.4 L897.2,609.1 L898.0,609.7 L898.8,610.3 L899.6,610.9 L900.4,611.5 L901.2,612.1 L902.0,612.7 L902.8,613.3 L903.6,613.9 L904.4,614.5 L905.2,615.2 L906.0,615.8 L906.7,616.4 L907.5,617.1 L908.3,617.7 L909.0,618.4 L909.8,619.0 L910.5,619.7 L911.3,620.3 L912.1,621.0 L912.8,621.7 L913.6,622.3 L914.3,623.0 L915.1,623.6 L915.9,624.3 L916.6,624.9 L917.4,625.6 L918.2,626.2 L918.9,626.8 L919.7,627.4 L920.5,628.0 L921.3,628.6 L922.2,629.2 L923.0,629.7 L923.8,630.3 L924.7,630.8 L925.6,631.3 L926.4,631.8 L927.3,632.3 L928.1,632.8 L929.0,633.3 L929.9,633.8 L930.7,634.3 L931.6,634.8 L932.5,635.3 L933.4,635.8 L934.3,636.3 L935.2,636.7 L936.1,637.1 L937.0,637.5 L937.9,637.9 L938.8,638.3 L939.7,638.7 L940.7,639.1 L941.6,639.5 L942.5,639.8 L943.5,640.2 L944.4,640.6 L945.3,640.9 L946.3,641.3 L947.2,641.6 L948.1,642.0 L949.1,642.3 L950.0,642.6 L951.0,642.9 L952.0,643.2 L952.9,643.5 L953.9,643.8 L954.9,644.0 L955.8,644.3 L956.8,644.5 L957.8,644.8 L958.7,645.0 L959.7,645.2 L960.7,645.5 L961.7,645.7 L962.6,646.0 L963.6,646.2 L964.6,646.5 L965.5,646.7 L966.5,647.0 L967.5,647.2 L968.5,647.5 L969.4,647.7 L970.4,647.9 L971.4,648.2 L972.3,648.4 L973.3,648.7 L974.3,649.0 L975.3,649.2 L976.2,649.5 L977.2,649.7 L978.2,650.0 L979.1,650.3 L980.1,650.5 L981.1,650.8 L982.0,651.1 L983.0,651.4 L983.9,651.6 L984.9,651.9 L985.9,652.2 L986.8,652.5 L987.8,652.7 L988.8,653.0 L989.7,653.3 L990.7,653.6 L991.6,653.8 L992.6,654.1 L993.5,654.5 L994.5,654.8 L995.4,655.2 L996.3,655.6 L997.2,656.0 L998.0,656.5 L998.9,657.0 L999.7,657.5 L1000.5,658.1 L1001.4,658.7 L1002.2,659.3 L1003.0,659.9 L1003.8,660.5 L1004.6,661.1 L1005.3,661.7 L1006.1,662.3 L1006.9,663.0 L1007.6,663.6 L1008.4,664.3 L1009.1,665.0 L1009.8,665.7 L1010.4,666.4 L1011.1,667.2 L1011.7,668.0 L1012.3,668.8 L1012.9,669.6 L1013.5,670.4 L1014.1,671.2 L1014.7,672.0 L1015.3,672.8 L1015.9,673.6 L1016.5,674.4 L1017.0,675.2 L1017.6,676.0 L1018.2,676.8 L1018.8,677.7 L1019.4,678.5 L1019.9,679.3 L1020.5,680.1 L1021.1,681.0 L1021.6,681.8 L1022.1,682.7 L1022.6,683.5 L1023.1,684.4 L1023.6,685.3 L1024.0,686.2 L1024.5,687.1 L1024.9,688.0 L1025.4,688.9 L1025.8,689.8 L1026.3,690.6 L1026.7,691.5 L1027.2,692.4 L1027.6,693.3 L1028.1,694.2 L1028.5,695.1 L1029.0,696.0 L1029.4,696.9 L1029.9,697.8 L1030.3,698.7 L1030.8,699.6 L1031.2,700.5 L1031.7,701.4 L1032.1,702.3 L1032.6,703.2 L1033.0,704.1 L1033.5,705.0 L1033.9,705.9 L1034.4,706.8 L1034.8,707.7 L1035.3,708.6 L1035.7,709.5 L1036.1,710.4 L1036.6,711.3 L1037.0,712.2 L1037.5,713.1 L1037.9,714.0 L1038.4,714.8 L1038.9,715.7 L1039.4,716.5 L1039.9,717.3 L1040.5,718.1 L1041.2,718.9 L1041.8,719.5 L1042.6,720.2 L1043.3,720.8 L1044.1,721.3 L1044.9,721.9 L1045.8,722.4 L1046.6,722.9 L1047.5,723.3 L1048.4,723.7 L1049.3,724.1 L1050.2,724.4 L1051.2,724.7 L1052.1,724.9 L1053.1,725.1 L1054.1,725.3 L1055.1,725.4 L1056.1,725.5 L1057.1,725.6 L1058.1,725.7 L1059.1,725.8 L1060.1,725.9 L1061.0,725.9 L1062.0,726.0 L1063.0,726.1 L1064.0,726.2 L1065.0,726.2 L1066.0,726.3 L1067.0,726.3 L1068.0,726.4 L1069.0,726.4 L1070.0,726.4 L1071.0,726.3 L1072.0,726.3 L1073.0,726.2 L1074.0,726.2 L1075.0,726.1 L1076.0,726.0 L1077.0,726.0 L1078.0,725.9 L1079.0,725.8 L1080.0,725.8 L1081.0,725.7 L1082.0,725.7 L1083.0,725.7 L1084.0,725.6 L1085.0,725.6 L1086.0,725.6 L1087.1,725.6 L1088.1,725.6 L1089.1,725.6 L1090.1,725.6 L1091.1,725.6 L1092.1,725.6 L1093.1,725.6 L1094.1,725.6 L1095.1,725.6 L1096.1,725.6 L1097.1,725.6 L1098.1,725.6 L1099.1,725.6 L1100.1,725.6 L1101.1,725.6 L1102.1,725.6 L1103.1,725.6 L1104.1,725.6 L1105.1,725.6 L1106.1,725.6 L1107.1,725.6 L1108.1,725.6 L1109.1,725.6 L1110.1,725.6 L1111.1,725.6 L1112.1,725.6 L1113.1,725.6 L1114.1,725.6 L1115.1,725.6 L1116.1,725.6 L1117.1,725.6 L1118.1,725.6 L1119.1,725.6 L1120.1,725.6 L1121.1,725.6 L1122.1,725.6 L1123.1,725.6 L1124.1,725.6 L1125.2,725.6 L1126.2,725.6 L1127.2,725.6 L1128.2,725.6 L1129.2,725.6 L1130.2,725.6 L1131.2,725.6 L1132.2,725.6 L1133.2,725.6 L1134.2,725.6 L1135.2,725.6 L1136.2,725.6 L1137.2,725.6 L1138.2,725.6 L1139.2,725.6 L1140.2,725.6 L1141.2,725.6 L1142.2,725.6 L1143.2,725.6 L1144.2,725.6 L1145.2,725.6 L1146.2,725.6 L1147.2,725.6 L1148.2,725.6 L1149.2,725.6 L1150.2,725.6 L1151.2,725.6 L1152.2,725.6 L1153.2,725.6 L1154.2,725.6 L1155.2,725.6 L1156.2,725.6 L1157.2,725.6 L1158.2,725.6 L1159.2,725.6 L1160.2,725.6 L1161.2,725.6 L1162.2,725.6 L1163.3,725.6 L1164.3,725.6 L1165.3,725.6 L1166.3,725.6 L1167.3,725.6 L1168.3,725.6 L1169.3,725.6 L1170.3,725.6 L1171.3,725.6 L1172.3,725.6 L1173.3,725.6 L1174.3,725.6 L1175.3,725.6 L1176.3,725.6 L1177.3,725.6 L1178.3,725.6 L1179.3,725.6 L1180.3,725.6 L1181.3,725.6" fill="none" stroke="#0000ff" stroke-width="3.2" stroke-linejoin="round" stroke-linecap="round"/>
<path d="M728.7,502.5 L729.2,503.4 L729.6,504.3 L730.1,505.2 L730.6,506.1 L731.0,506.9 L731.5,507.8 L731.9,508.7 L732.3,509.6 L732.7,510.6 L733.1,511.5 L733.5,512.4 L733.8,513.3 L734.1,514.3 L734.5,515.2 L734.7,516.2 L735.0,517.2 L735.3,518.1 L735.6,519.1 L735.9,520.0 L736.2,521.0 L736.4,522.0 L736.7,522.9 L737.0,523.9 L737.3,524.9 L737.6,525.8 L737.9,526.8 L738.2,527.7 L738.5,528.7 L738.8,529.6 L739.1,530.6 L739.5,531.5 L739.8,532.5 L740.2,533.4 L740.5,534.3 L740.9,535.3 L741.2,536.2 L741.6,537.1 L742.0,538.0 L742.5,538.9 L742.9,539.8 L743.4,540.6 L744.0,541.4 L744.6,542.2 L745.2,542.9 L745.9,543.6 L746.6,544.3 L747.3,545.0 L748.1,545.7 L748.8,546.2 L749.6,546.8 L750.5,547.3 L751.3,547.8 L752.2,548.2 L753.1,548.5 L754.1,548.9 L755.0,549.2 L756.0,549.5 L756.9,549.8 L757.9,550.1 L758.8,550.3 L759.8,550.6 L760.8,550.8 L761.8,551.0 L762.7,551.2 L763.7,551.3 L764.7,551.5 L765.7,551.6 L766.7,551.7 L767.7,551.8 L768.7,551.9 L769.7,552.0 L770.7,552.1 L771.7,552.2 L772.7,552.3 L773.7,552.4 L774.7,552.5 L775.7,552.6 L776.7,552.7 L777.7,552.8 L778.7,552.9 L779.7,553.0 L780.7,553.0 L781.7,553.1 L782.7,553.1 L783.7,553.2 L784.7,553.2 L785.7,553.3 L786.7,553.3 L787.7,553.3 L788.7,553.4 L789.7,553.4 L790.7,553.4 L791.7,553.5 L792.7,553.5 L793.7,553.6 L794.7,553.7 L795.7,553.8 L796.7,554.0 L797.6,554.1 L798.6,554.3 L799.6,554.6 L800.5,554.8 L801.5,555.1 L802.5,555.4 L803.4,555.7 L804.4,556.0 L805.3,556.4 L806.2,556.7 L807.1,557.1 L808.1,557.5 L809.0,557.9 L809.9,558.3 L810.8,558.8 L811.7,559.2 L812.6,559.6 L813.5,560.0 L814.4,560.4 L815.4,560.7 L816.3,561.0 L817.3,561.3 L818.2,561.6 L819.2,561.8 L820.2,562.1 L821.1,562.3 L822.1,562.5 L823.1,562.7 L824.1,562.9 L825.0,563.2 L826.0,563.4 L827.0,563.6 L828.0,563.8 L829.0,564.0 L830.0,564.1 L830.9,564.3 L831.9,564.5 L832.9,564.6 L833.9,564.7 L834.9,564.9 L835.9,565.0 L836.9,565.1 L837.9,565.2 L838.9,565.3 L839.9,565.4 L840.9,565.5 L841.9,565.6 L842.9,565.7 L843.9,565.8 L844.9,565.9 L845.9,566.0 L846.9,566.1 L847.9,566.3 L848.9,566.4 L849.9,566.5 L850.9,566.6 L851.9,566.7 L852.9,566.9 L853.8,567.0 L854.8,567.1 L855.8,567.2 L856.8,567.3 L857.8,567.5 L858.8,567.6 L859.8,567.7 L860.8,567.9 L861.8,568.0 L862.8,568.1 L863.8,568.3 L864.8,568.4 L865.8,568.6 L866.8,568.8 L867.7,569.0 L868.7,569.1 L869.7,569.3 L870.7,569.5 L871.7,569.7 L872.7,569.9 L873.6,570.1 L874.6,570.3 L875.6,570.5 L876.6,570.7 L877.6,571.0 L878.5,571.2 L879.5,571.4 L880.5,571.7 L881.4,572.0 L882.4,572.3 L883.3,572.6 L884.3,573.0 L885.2,573.3 L886.1,573.7 L887.1,574.0 L888.0,574.4 L888.9,574.8 L889.9,575.2 L890.8,575.5 L891.7,575.9 L892.6,576.3 L893.6,576.7 L894.5,577.0 L895.4,577.4 L896.4,577.7 L897.3,578.1 L898.3,578.5 L899.2,578.8 L900.1,579.2 L901.1,579.5 L902.0,579.8 L903.0,580.2 L903.9,580.5 L904.9,580.8 L905.8,581.2 L906.7,581.5 L907.7,581.8 L908.6,582.2 L909.6,582.5 L910.5,582.9 L911.5,583.2 L912.4,583.6 L913.3,584.0 L914.2,584.4 L915.1,584.8 L916.1,585.2 L917.0,585.6 L917.9,586.1 L918.8,586.5 L919.7,586.9 L920.6,587.4 L921.5,587.8 L922.4,588.3 L923.3,588.7 L924.2,589.2 L925.0,589.6 L925.9,590.1 L926.8,590.5 L927.7,591.0 L928.6,591.5 L929.5,591.9 L930.4,592.4 L931.3,592.9 L932.2,593.4 L933.0,593.8 L933.9,594.3 L934.8,594.8 L935.6,595.3 L936.5,595.8 L937.4,596.3 L938.3,596.8 L939.1,597.3 L940.0,597.8 L940.9,598.3 L941.7,598.8 L942.6,599.3 L943.4,599.9 L944.3,600.4 L945.1,601.0 L945.9,601.5 L946.7,602.2 L947.5,602.8 L948.2,603.4 L948.9,604.1 L949.7,604.8 L950.4,605.5 L951.1,606.2 L951.8,606.9 L952.5,607.6 L953.2,608.3 L953.9,609.1 L954.6,609.8 L955.3,610.5 L956.0,611.2 L956.7,611.9 L957.4,612.6 L958.1,613.4 L958.8,614.1 L959.5,614.8 L960.1,615.6 L960.8,616.3 L961.4,617.1 L962.0,617.9 L962.5,618.7 L963.1,619.5 L963.6,620.4 L964.0,621.3 L964.5,622.2 L964.9,623.1 L965.3,624.0 L965.8,624.9 L966.2,625.8 L966.6,626.7 L967.0,627.6 L967.5,628.5 L967.9,629.4 L968.3,630.3 L968.7,631.2 L969.1,632.2 L969.6,633.1 L970.0,634.0 L970.4,634.9 L970.8,635.8 L971.2,636.7 L971.5,637.7 L971.9,638.6 L972.2,639.5 L972.6,640.5 L972.9,641.4 L973.2,642.4 L973.5,643.3 L973.8,644.3 L974.1,645.2 L974.4,646.2 L974.7,647.2 L975.0,648.1 L975.3,649.1 L975.6,650.0 L975.9,651.0 L976.2,652.0 L976.5,652.9 L976.8,653.9 L977.1,654.8 L977.4,655.8 L977.7,656.7 L978.0,657.7 L978.3,658.7 L978.6,659.6 L978.8,660.6 L979.1,661.5 L979.4,662.5 L979.6,663.5 L979.8,664.5 L980.0,665.4 L980.2,666.4 L980.4,667.4 L980.6,668.4 L980.7,669.4 L980.9,670.4 L981.1,671.4 L981.2,672.4 L981.4,673.3 L981.6,674.3 L981.7,675.3 L981.9,676.3 L982.1,677.3 L982.2,678.3 L982.4,679.3 L982.6,680.3 L982.7,681.3 L982.9,682.2 L983.1,683.2 L983.2,684.2 L983.4,685.2 L983.6,686.2 L983.7,687.2 L983.9,688.2 L984.1,689.2 L984.3,690.1 L984.4,691.1 L984.6,692.1 L984.8,693.1 L985.0,694.1 L985.2,695.1 L985.5,696.0 L985.7,697.0 L985.9,698.0 L986.1,699.0 L986.3,700.0 L986.5,700.9 L986.7,701.9 L987.0,702.9 L987.2,703.9 L987.4,704.9 L987.6,705.8 L987.8,706.8 L988.0,707.8 L988.3,708.8 L988.5,709.8 L988.7,710.7 L988.9,711.7 L989.1,712.7 L989.3,713.7 L989.6,714.6 L989.8,715.6 L990.0,716.6 L990.2,717.6 L990.5,718.6 L990.7,719.5 L990.9,720.5 L991.2,721.5 L991.4,722.4 L991.7,723.4 L992.0,724.4 L992.2,725.3 L992.5,726.3 L992.8,727.3 L993.0,728.3 L993.3,729.2 L993.5,730.2 L993.8,731.2 L994.1,732.1 L994.3,733.1 L994.6,734.1 L994.9,735.0 L995.1,736.0 L995.4,737.0 L995.7,737.9 L995.9,738.9 L996.2,739.9 L996.5,740.8 L996.7,741.8 L997.0,742.8 L997.2,743.7 L997.5,744.7 L997.8,745.7 L998.1,746.6 L998.3,747.6 L998.6,748.5 L998.9,749.5 L999.3,750.4 L999.7,751.3 L1000.1,752.1 L1000.6,752.9 L1001.1,753.7 L1001.8,754.4 L1002.4,755.0 L1003.2,755.7 L1003.9,756.3 L1004.7,756.8 L1005.6,757.4 L1006.4,757.9 L1007.2,758.5 L1008.1,759.0 L1009.0,759.4 L1009.9,759.9 L1010.8,760.3 L1011.7,760.7 L1012.6,761.1 L1013.5,761.5 L1014.4,761.9 L1015.4,762.2 L1016.3,762.6 L1017.2,763.0 L1018.2,763.3 L1019.1,763.7 L1020.1,764.0 L1021.0,764.4 L1021.9,764.7 L1022.9,765.1 L1023.8,765.4 L1024.8,765.8 L1025.7,766.1 L1026.6,766.5 L1027.6,766.8 L1028.5,767.2 L1029.4,767.5 L1030.4,767.9 L1031.3,768.3 L1032.2,768.6 L1033.2,769.0 L1034.1,769.4 L1035.0,769.8 L1035.9,770.2 L1036.8,770.7 L1037.7,771.1 L1038.6,771.5 L1039.5,772.0 L1040.4,772.4 L1041.3,772.9 L1042.2,773.3 L1043.1,773.8 L1044.0,774.2 L1044.9,774.7 L1045.8,775.1 L1046.7,775.6 L1047.6,776.0 L1048.5,776.5 L1049.4,776.9 L1050.3,777.4 L1051.2,777.8 L1052.1,778.2 L1053.0,778.7 L1053.9,779.2 L1054.8,779.6 L1055.7,780.1 L1056.5,780.6 L1057.4,781.0 L1058.3,781.6 L1059.1,782.1 L1059.9,782.6 L1060.7,783.2 L1061.5,783.8 L1062.3,784.4 L1063.1,785.0 L1063.9,785.7 L1064.7,786.3 L1065.4,786.9 L1066.2,787.6 L1067.0,788.2 L1067.8,788.9 L1068.5,789.5 L1069.3,790.2 L1070.1,790.8 L1070.8,791.4 L1071.6,792.1 L1072.4,792.7 L1073.1,793.4 L1073.9,794.0 L1074.7,794.7 L1075.4,795.3 L1076.2,796.0 L1076.9,796.7 L1077.6,797.4 L1078.3,798.1 L1079.0,798.8 L1079.7,799.5 L1080.4,800.3 L1081.1,801.0 L1081.7,801.7 L1082.4,802.5 L1083.0,803.3 L1083.7,804.0 L1084.4,804.8 L1085.0,805.5 L1085.7,806.3 L1086.3,807.1 L1087.0,807.8 L1087.6,808.6 L1088.3,809.3 L1088.9,810.1 L1089.6,810.9 L1090.2,811.6 L1090.9,812.4 L1091.5,813.2 L1092.2,813.9 L1092.9,814.7 L1093.5,815.4 L1094.2,816.2 L1094.8,816.9 L1095.5,817.6 L1096.2,818.4 L1096.9,819.1 L1097.7,819.8 L1098.4,820.4 L1099.1,821.1 L1099.9,821.7 L1100.7,822.4 L1101.4,823.0 L1102.2,823.7 L1103.0,824.3 L1103.8,824.9 L1104.6,825.5 L1105.3,826.2 L1106.1,826.8 L1106.9,827.4 L1107.7,828.0 L1108.5,828.6 L1109.3,829.2 L1110.1,829.8 L1110.9,830.3 L1111.8,830.8 L1112.7,831.2 L1113.6,831.6 L1114.5,831.9 L1115.4,832.2 L1116.4,832.4 L1117.3,832.6 L1118.3,832.8 L1119.3,833.0 L1120.3,833.2 L1121.3,833.3 L1122.3,833.5 L1123.2,833.7 L1124.2,833.8 L1125.2,834.0 L1126.2,834.1 L1127.2,834.3 L1128.2,834.4 L1129.2,834.6 L1130.2,834.7 L1131.2,834.8 L1132.2,834.8 L1133.2,834.9 L1134.2,834.9 L1135.2,835.0 L1136.2,835.0 L1137.2,835.0 L1138.2,835.0 L1139.2,835.0 L1140.2,835.0 L1141.2,835.0 L1142.2,835.0 L1143.2,835.0 L1144.2,835.0 L1145.2,835.0 L1146.2,835.0 L1147.2,835.0 L1148.2,835.0 L1149.2,835.0 L1150.2,835.0 L1151.2,835.0 L1152.2,835.0 L1153.2,835.0 L1154.2,835.0 L1155.2,835.0 L1156.2,835.0 L1157.2,835.0 L1158.2,835.0 L1159.2,835.0 L1160.2,835.0 L1161.2,835.0 L1162.2,835.0 L1163.2,835.0 L1164.3,835.0 L1165.3,835.0 L1166.3,835.0 L1167.3,835.0 L1168.3,835.0 L1169.3,835.0 L1170.3,835.0 L1171.3,835.0 L1172.3,835.0 L1173.3,835.0 L1174.3,835.0 L1175.3,835.0 L1176.3,835.0 L1177.3,835.0 L1178.3,835.0 L1179.3,835.0 L1180.3,835.0 L1181.3,835.0" fill="none" stroke="#ff0000" stroke-width="3.2" stroke-linejoin="round" stroke-linecap="round"/>
<rect x="711.5" y="502.3" width="496.5" height="370.40000000000003" fill="none" stroke="#3a3a3a" stroke-width="1.6"/>
<line x1="704.5" y1="814.22" x2="711.5" y2="814.22" stroke="#3a3a3a" stroke-width="1.5" />
<text x="698" y="820.52" font-size="22" text-anchor="end" fill="#1a1a1a"  stroke="#1a1a1a" stroke-width="0.3">20</text>
<line x1="704.5" y1="736.24" x2="711.5" y2="736.24" stroke="#3a3a3a" stroke-width="1.5" />
<text x="698" y="742.54" font-size="22" text-anchor="end" fill="#1a1a1a"  stroke="#1a1a1a" stroke-width="0.3">40</text>
<line x1="704.5" y1="658.26" x2="711.5" y2="658.26" stroke="#3a3a3a" stroke-width="1.5" />
<text x="698" y="664.56" font-size="22" text-anchor="end" fill="#1a1a1a"  stroke="#1a1a1a" stroke-width="0.3">60</text>
<line x1="704.5" y1="580.28" x2="711.5" y2="580.28" stroke="#3a3a3a" stroke-width="1.5" />
<text x="698" y="586.5799999999999" font-size="22" text-anchor="end" fill="#1a1a1a"  stroke="#1a1a1a" stroke-width="0.3">80</text>
<line x1="704.5" y1="502.30000000000007" x2="711.5" y2="502.30000000000007" stroke="#3a3a3a" stroke-width="1.5" />
<text x="698" y="508.6000000000001" font-size="22" text-anchor="end" fill="#1a1a1a"  stroke="#1a1a1a" stroke-width="0.3">100</text>
<line x1="707.5" y1="853.21" x2="711.5" y2="853.21" stroke="#3a3a3a" stroke-width="1.5" />
<line x1="707.5" y1="775.23" x2="711.5" y2="775.23" stroke="#3a3a3a" stroke-width="1.5" />
<line x1="707.5" y1="697.25" x2="711.5" y2="697.25" stroke="#3a3a3a" stroke-width="1.5" />
<line x1="707.5" y1="619.27" x2="711.5" y2="619.27" stroke="#3a3a3a" stroke-width="1.5" />
<line x1="707.5" y1="541.29" x2="711.5" y2="541.29" stroke="#3a3a3a" stroke-width="1.5" />
<line x1="711.5" y1="872.7" x2="711.5" y2="879.7" stroke="#3a3a3a" stroke-width="1.5" />
<text x="711.5" y="902" font-size="22" text-anchor="middle" fill="#1a1a1a"  stroke="#1a1a1a" stroke-width="0.3">0</text>
<line x1="769.9117647058823" y1="872.7" x2="769.9117647058823" y2="879.7" stroke="#3a3a3a" stroke-width="1.5" />
<text x="769.9117647058823" y="902" font-size="22" text-anchor="middle" fill="#1a1a1a"  stroke="#1a1a1a" stroke-width="0.3">100</text>
<line x1="828.3235294117648" y1="872.7" x2="828.3235294117648" y2="879.7" stroke="#3a3a3a" stroke-width="1.5" />
<text x="828.3235294117648" y="902" font-size="22" text-anchor="middle" fill="#1a1a1a"  stroke="#1a1a1a" stroke-width="0.3">200</text>
<line x1="886.7352941176471" y1="872.7" x2="886.7352941176471" y2="879.7" stroke="#3a3a3a" stroke-width="1.5" />
<text x="886.7352941176471" y="902" font-size="22" text-anchor="middle" fill="#1a1a1a"  stroke="#1a1a1a" stroke-width="0.3">300</text>
<line x1="945.1470588235294" y1="872.7" x2="945.1470588235294" y2="879.7" stroke="#3a3a3a" stroke-width="1.5" />
<text x="945.1470588235294" y="902" font-size="22" text-anchor="middle" fill="#1a1a1a"  stroke="#1a1a1a" stroke-width="0.3">400</text>
<line x1="1003.5588235294117" y1="872.7" x2="1003.5588235294117" y2="879.7" stroke="#3a3a3a" stroke-width="1.5" />
<text x="1003.5588235294117" y="902" font-size="22" text-anchor="middle" fill="#1a1a1a"  stroke="#1a1a1a" stroke-width="0.3">500</text>
<line x1="1061.9705882352941" y1="872.7" x2="1061.9705882352941" y2="879.7" stroke="#3a3a3a" stroke-width="1.5" />
<text x="1061.9705882352941" y="902" font-size="22" text-anchor="middle" fill="#1a1a1a"  stroke="#1a1a1a" stroke-width="0.3">600</text>
<line x1="1120.3823529411766" y1="872.7" x2="1120.3823529411766" y2="879.7" stroke="#3a3a3a" stroke-width="1.5" />
<text x="1120.3823529411766" y="902" font-size="22" text-anchor="middle" fill="#1a1a1a"  stroke="#1a1a1a" stroke-width="0.3">700</text>
<line x1="1178.7941176470588" y1="872.7" x2="1178.7941176470588" y2="879.7" stroke="#3a3a3a" stroke-width="1.5" />
<text x="1178.7941176470588" y="902" font-size="22" text-anchor="middle" fill="#1a1a1a"  stroke="#1a1a1a" stroke-width="0.3">800</text>
<line x1="740.7058823529412" y1="872.7" x2="740.7058823529412" y2="877.2" stroke="#3a3a3a" stroke-width="1.5" />
<line x1="799.1176470588235" y1="872.7" x2="799.1176470588235" y2="877.2" stroke="#3a3a3a" stroke-width="1.5" />
<line x1="857.5294117647059" y1="872.7" x2="857.5294117647059" y2="877.2" stroke="#3a3a3a" stroke-width="1.5" />
<line x1="915.9411764705883" y1="872.7" x2="915.9411764705883" y2="877.2" stroke="#3a3a3a" stroke-width="1.5" />
<line x1="974.3529411764706" y1="872.7" x2="974.3529411764706" y2="877.2" stroke="#3a3a3a" stroke-width="1.5" />
<line x1="1032.764705882353" y1="872.7" x2="1032.764705882353" y2="877.2" stroke="#3a3a3a" stroke-width="1.5" />
<line x1="1091.1764705882354" y1="872.7" x2="1091.1764705882354" y2="877.2" stroke="#3a3a3a" stroke-width="1.5" />
<line x1="1149.5882352941176" y1="872.7" x2="1149.5882352941176" y2="877.2" stroke="#3a3a3a" stroke-width="1.5" />
<line x1="1208.0" y1="872.7" x2="1208.0" y2="877.2" stroke="#3a3a3a" stroke-width="1.5" />
<text transform="translate(649.3,684.2) rotate(-90)" font-size="28.2" text-anchor="middle" fill="#1a1a1a">% W</text>
<text x="913" y="949.4" font-size="28.2" text-anchor="start" fill="#1a1a1a"  stroke="#1a1a1a" stroke-width="0.3">T</text>
<text x="942" y="949.4" font-size="28.2" text-anchor="start" fill="#1a1a1a"  stroke="#1a1a1a" stroke-width="0.3">(</text>
<text x="953.5" y="939.5" font-size="22" text-anchor="start" fill="#1a1a1a"  stroke="#1a1a1a" stroke-width="0.3">o</text>
<text x="969.5" y="949.4" font-size="28.2" text-anchor="start" fill="#1a1a1a"  stroke="#1a1a1a" stroke-width="0.3">C</text>
<text x="991" y="949.4" font-size="28.2" text-anchor="start" fill="#1a1a1a"  stroke="#1a1a1a" stroke-width="0.3">)</text>
<rect x="988" y="510" width="212" height="46.8" fill="#fff" stroke="#3a3a3a" stroke-width="1.4"/>
<line x1="993.8" y1="523.3" x2="1034.5" y2="523.3" stroke="#0000ff" stroke-width="3.2" />
<text x="1038.8" y="529.3" font-size="16.6" text-anchor="start" fill="#0000ff" letter-spacing="1.3" stroke="#0000ff" stroke-width="0.3">Au NCs</text>
<line x1="993.8" y1="545.8" x2="1034.5" y2="545.8" stroke="#ff0000" stroke-width="3.2" />
<text x="1038.8" y="551.8" font-size="16.6" text-anchor="start" fill="#ff0000" letter-spacing="1.3" stroke="#ff0000" stroke-width="0.3">Au NCs-PNIPAAm</text>
</g>
</svg></body></html>
